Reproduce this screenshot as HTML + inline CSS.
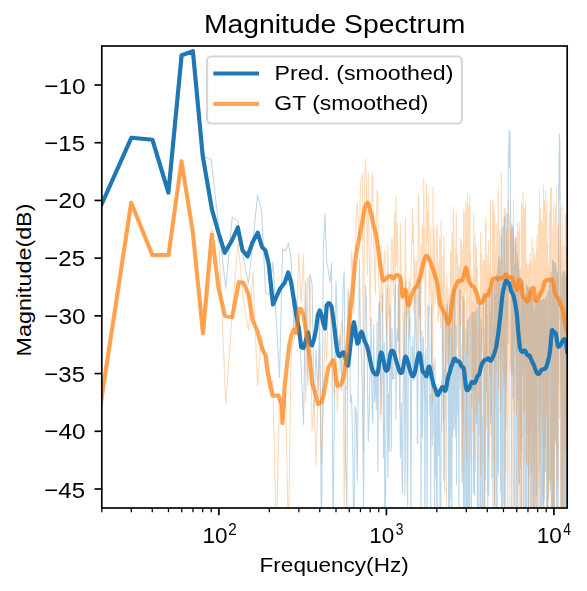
<!DOCTYPE html><html><head><meta charset="utf-8"><style>html,body{margin:0;padding:0;background:#fff;width:587px;height:591px;overflow:hidden}svg{display:block}</style></head><body><svg width="587" height="591" viewBox="0 0 587 591">
<defs><clipPath id="c"><rect x="101.8" y="46.0" width="465.40" height="462.00"/></clipPath></defs>
<rect width="587" height="591" fill="#fff"/>
<g clip-path="url(#c)" fill="none" stroke-linejoin="round" stroke-linecap="square">
<g style="opacity:0.3;will-change:opacity"><path d="M51.4,214.0 L101.8,203.9 L131.3,137.9 L152.2,139.7 L168.5,191.8 L181.7,55.2 L193.0,51.8 L202.7,156.0 L211.2,159.5 L218.9,228.0 L225.8,288.6 L232.2,216.9 L238.0,221.3 L243.4,257.6 L248.4,284.0 L253.1,240.0 L257.5,194.9 L261.7,211.4 L265.6,292.9 L269.3,295.0 L272.9,262.0 L276.3,320.0 L279.5,377.5 L282.6,248.8 L285.6,251.0 L288.4,243.3 L291.2,259.8 L293.8,330.0 L296.4,300.0 L298.8,331.2 L301.2,366.2 L303.5,424.4 L305.8,280.7 L307.9,385.0 L310.0,273.9 L312.1,284.2 L314.1,407.6 L316.0,350.3 L317.9,392.1 L319.7,317.3 L321.5,557.6 L323.3,250.0 L325.0,214.0 L326.7,262.0 L328.3,269.9 L329.9,282.5 L331.5,263.2 L333.0,535.3 L334.5,395.8 L336.0,281.0 L337.4,326.8 L338.8,348.9 L340.2,334.7 L341.6,390.1 L342.9,290.2 L344.2,271.6 L345.5,458.7 L346.8,508.1 L348.0,289.4 L349.2,309.9 L350.4,402.6 L351.6,395.6 L352.8,452.0 L353.9,560.0 L355.1,406.3 L356.2,412.1 L357.3,480.8 L358.3,372.3 L359.4,259.1 L360.5,340.4 L361.5,358.0 L362.5,397.3 L363.5,514.8 L364.5,376.2 L365.5,285.5 L366.4,300.8 L367.4,375.9 L368.3,441.5 L369.3,412.1 L370.2,356.3 L371.1,317.4 L372.0,406.7 L372.8,423.7 L373.7,324.7 L374.6,401.6 L375.4,369.4 L376.3,410.1 L377.1,321.5 L377.9,471.1 L378.7,304.9 L379.5,301.5 L380.3,348.0 L381.1,414.0 L381.9,371.1 L382.7,293.4 L383.4,457.6 L384.2,342.6 L384.9,560.0 L385.7,481.7 L386.4,341.3 L387.1,288.3 L387.8,477.7 L388.6,393.6 L389.3,451.7 L389.9,305.2 L390.6,342.4 L391.3,451.0 L392.0,328.6 L392.7,379.0 L393.3,374.5 L394.0,378.8 L394.6,304.8 L395.3,284.6 L395.9,419.6 L396.6,339.3 L397.2,328.8 L397.8,341.0 L398.4,284.9 L399.1,352.9 L399.7,289.9 L400.3,458.1 L400.9,442.4 L401.5,403.2 L402.0,482.2 L402.6,493.6 L403.2,384.4 L403.8,376.1 L404.4,313.3 L404.9,496.0 L405.5,425.1 L406.0,280.8 L406.6,316.2 L407.1,482.8 L407.7,506.1 L408.2,376.9 L408.8,299.6 L409.3,338.3 L409.8,317.0 L410.4,360.4 L410.9,540.8 L411.4,418.3 L411.9,346.7 L412.4,373.1 L412.9,336.0 L413.4,357.8 L413.9,380.6 L414.4,374.2 L414.9,286.8 L415.4,311.9 L415.9,331.5 L416.4,355.2 L416.9,364.2 L417.3,443.4 L417.8,443.4 L418.3,307.9 L418.7,279.9 L419.2,317.7 L419.7,273.5 L420.1,281.0 L420.6,351.5 L421.0,553.2 L421.5,365.0 L421.9,330.2 L422.4,437.7 L422.8,422.6 L423.3,337.0 L423.7,351.0 L424.1,373.6 L424.6,401.6 L425.0,560.0 L425.4,358.2 L425.9,347.6 L426.3,395.8 L426.7,411.7 L427.1,517.8 L427.5,407.3 L427.9,304.7 L428.3,309.6 L428.8,307.0 L429.2,378.1 L429.6,404.2 L430.0,416.3 L430.4,394.5 L430.8,507.6 L431.2,346.7 L431.5,305.1 L431.9,355.6 L432.3,445.9 L432.7,376.7 L433.1,369.7 L433.5,363.6 L433.9,436.7 L434.2,409.7 L434.6,560.0 L435.0,358.9 L435.4,477.2 L435.7,410.3 L436.1,393.7 L436.5,434.8 L436.8,560.0 L437.2,560.0 L437.5,389.0 L437.9,405.9 L438.3,392.6 L438.6,455.7 L439.0,397.4 L439.3,389.3 L439.7,436.8 L440.0,546.9 L440.4,560.0 L440.7,540.2 L441.1,435.0 L441.4,380.8 L441.7,431.4 L442.1,403.1 L442.4,357.6 L442.8,309.8 L443.1,346.8 L443.4,380.9 L443.8,480.4 L444.1,436.6 L444.4,369.4 L444.7,491.9 L445.1,314.4 L445.4,371.3 L445.7,392.8 L446.0,328.6 L446.4,322.0 L446.7,307.9 L447.0,306.5 L447.3,305.0 L447.6,303.6 L447.9,338.9 L448.2,393.9 L448.6,514.7 L448.9,320.1 L449.2,327.5 L449.5,522.2 L449.8,295.0 L450.1,499.8 L450.4,487.0 L450.7,384.2 L451.0,327.4 L451.3,453.0 L451.6,430.4 L451.9,560.0 L452.2,353.3 L452.5,289.9 L452.8,436.5 L453.1,419.0 L453.3,350.8 L453.6,372.6 L453.9,290.6 L454.2,429.0 L454.5,365.1 L454.8,287.2 L455.1,333.3 L455.3,357.5 L455.6,436.4 L455.9,324.9 L456.2,326.6 L456.5,484.7 L456.7,355.5 L457.0,416.4 L457.3,367.8 L457.6,358.5 L457.8,408.2 L458.1,362.6 L458.4,433.8 L458.7,404.8 L458.9,560.0 L459.2,347.6 L459.5,289.6 L459.7,381.7 L460.0,352.8 L460.3,290.1 L460.5,352.8 L460.8,387.5 L461.0,344.1 L461.3,411.7 L461.6,365.4 L461.8,441.3 L462.1,482.9 L462.3,472.8 L462.6,356.5 L462.8,358.0 L463.1,296.3 L463.3,443.4 L463.6,560.0 L463.9,299.2 L464.1,309.1 L464.4,372.1 L464.6,364.0 L464.8,560.0 L465.1,351.6 L465.3,442.4 L465.6,434.0 L465.8,329.0 L466.1,472.5 L466.3,512.0 L466.6,550.2 L466.8,412.0 L467.0,404.1 L467.3,321.1 L467.5,560.0 L467.8,505.0 L468.0,339.3 L468.2,483.9 L468.5,318.7 L468.7,366.1 L468.9,507.8 L469.2,439.7 L469.4,342.8 L469.6,553.8 L469.9,422.0 L470.1,315.4 L470.3,407.1 L470.6,397.6 L470.8,393.6 L471.0,460.1 L471.2,399.0 L471.5,560.0 L471.7,432.4 L471.9,313.0 L472.1,312.9 L472.4,334.5 L472.6,312.6 L472.8,391.2 L473.0,370.6 L473.3,406.5 L473.5,492.8 L473.7,312.0 L473.9,344.2 L474.1,387.8 L474.3,491.6 L474.6,495.8 L474.8,335.8 L475.0,311.3 L475.2,393.9 L475.4,312.9 L475.6,313.3 L475.8,381.2 L476.1,390.8 L476.3,423.4 L476.5,413.4 L476.7,352.0 L476.9,308.9 L477.1,416.2 L477.3,440.6 L477.5,556.3 L477.7,394.7 L477.9,444.3 L478.2,560.0 L478.4,306.2 L478.6,338.0 L478.8,433.7 L479.0,305.1 L479.2,304.8 L479.4,336.6 L479.6,329.6 L479.8,303.6 L480.0,550.8 L480.2,545.8 L480.4,419.4 L480.6,560.0 L480.8,425.9 L481.0,357.4 L481.2,319.2 L481.4,416.3 L481.6,327.5 L481.8,439.6 L482.0,510.9 L482.2,545.4 L482.4,495.2 L482.6,417.0 L482.7,471.0 L482.9,427.3 L483.1,560.0 L483.3,293.3 L483.5,370.5 L483.7,385.3 L483.9,383.5 L484.1,463.3 L484.3,348.2 L484.5,560.0 L484.7,443.4 L484.8,367.7 L485.0,328.3 L485.2,359.0 L485.4,479.2 L485.6,295.8 L485.8,302.0 L486.0,328.7 L486.1,391.7 L486.3,326.9 L486.5,352.9 L486.7,311.4 L486.9,289.6 L487.1,396.3 L487.2,315.2 L487.4,493.2 L487.6,465.9 L487.8,521.5 L488.0,448.4 L488.1,393.6 L488.3,483.6 L488.5,417.1 L488.7,380.1 L488.9,495.3 L489.0,444.9 L489.2,288.4 L489.4,319.4 L489.6,314.1 L489.7,317.2 L489.9,376.8 L490.1,331.6 L490.3,356.7 L490.4,385.4 L490.6,423.9 L490.8,310.7 L491.0,410.1 L491.1,314.2 L491.3,293.0 L491.5,300.4 L491.7,293.7 L491.8,477.9 L492.0,446.4 L492.2,329.2 L492.3,356.1 L492.5,289.7 L492.7,446.1 L492.8,354.7 L493.0,515.3 L493.2,443.0 L493.3,395.8 L493.5,325.2 L493.7,363.2 L493.8,457.5 L494.0,311.5 L494.2,284.8 L494.3,312.9 L494.5,494.2 L494.7,505.3 L494.8,318.2 L495.0,409.1 L495.2,280.7 L495.3,328.3 L495.5,294.5 L495.7,303.6 L495.8,405.6 L496.0,342.2 L496.1,473.8 L496.3,516.6 L496.5,330.4 L496.6,274.4 L496.8,440.0 L496.9,365.8 L497.1,560.0 L497.3,294.2 L497.4,398.9 L497.6,469.9 L497.7,268.2 L497.9,329.5 L498.0,326.6 L498.2,286.6 L498.4,262.1 L498.5,474.8 L498.7,294.8 L498.8,364.3 L499.0,256.0 L499.1,290.5 L499.3,314.1 L499.4,345.8 L499.6,258.6 L499.7,261.8 L499.9,340.5 L500.1,393.2 L500.2,303.0 L500.4,492.4 L500.5,324.9 L500.7,332.3 L500.8,423.2 L501.0,395.1 L501.1,236.2 L501.3,248.9 L501.4,328.4 L501.6,560.0 L501.7,346.1 L501.9,379.1 L502.0,293.2 L502.2,227.8 L502.3,278.0 L502.5,560.0 L502.6,282.2 L502.7,333.8 L502.9,389.9 L503.0,226.2 L503.2,318.5 L503.3,249.3 L503.5,351.2 L503.6,266.3 L503.8,287.9 L503.9,217.9 L504.1,262.5 L504.2,533.8 L504.3,555.5 L504.5,369.8 L504.6,232.8 L504.8,216.2 L504.9,339.5 L505.1,264.2 L505.2,560.0 L505.3,560.0 L505.5,299.4 L505.6,316.9 L505.8,429.0 L505.9,325.0 L506.1,320.0 L506.2,389.5 L506.3,370.8 L506.5,282.4 L506.6,370.7 L506.7,241.0 L506.9,213.1 L507.0,213.4 L507.2,250.8 L507.3,283.4 L507.4,323.2 L507.6,287.9 L507.7,281.3 L507.9,245.6 L508.0,343.3 L508.1,214.5 L508.3,152.8 L508.4,155.0 L508.5,155.0 L508.7,146.9 L508.8,154.6 L508.9,144.0 L509.1,132.7 L509.2,149.6 L509.3,130.0 L509.5,168.0 L509.6,147.7 L509.7,147.1 L509.9,131.8 L510.0,143.7 L510.1,136.0 L510.3,166.0 L510.4,202.9 L510.5,203.7 L510.7,224.5 L510.8,266.1 L510.9,250.5 L511.1,266.2 L511.2,377.1 L511.3,560.0 L511.5,381.6 L511.6,282.4 L511.7,223.9 L511.9,241.4 L512.0,238.0 L512.1,301.3 L512.2,374.1 L512.4,296.0 L512.5,226.0 L512.6,226.3 L512.8,249.4 L512.9,284.6 L513.0,227.3 L513.1,398.6 L513.3,254.0 L513.4,270.5 L513.5,228.7 L513.6,233.8 L513.8,311.4 L513.9,372.5 L514.0,267.2 L514.1,551.0 L514.3,389.7 L514.4,303.7 L514.5,418.5 L514.6,264.0 L514.8,370.1 L514.9,273.0 L515.0,560.0 L515.1,360.6 L515.3,244.5 L515.4,278.8 L515.5,237.4 L515.6,356.2 L515.8,238.7 L515.9,239.3 L516.0,273.1 L516.1,240.6 L516.3,380.7 L516.4,390.0 L516.5,560.0 L516.6,440.5 L516.7,318.7 L516.9,263.9 L517.0,357.6 L517.1,415.8 L517.2,260.5 L517.3,303.7 L517.5,277.0 L517.6,254.0 L517.7,560.0 L517.8,278.7 L517.9,483.7 L518.1,302.3 L518.2,261.6 L518.3,263.2 L518.4,264.7 L518.5,269.7 L518.7,274.4 L518.8,305.4 L518.9,309.8 L519.0,291.1 L519.1,270.4 L519.2,388.3 L519.4,484.1 L519.5,337.3 L519.6,314.3 L519.7,387.7 L519.8,340.4 L519.9,283.2 L520.1,308.9 L520.2,340.5 L520.3,322.8 L520.4,366.6 L520.5,427.2 L520.6,468.5 L520.7,324.3 L520.9,420.9 L521.0,519.6 L521.1,497.8 L521.2,502.7 L521.3,282.0 L521.4,560.0 L521.5,373.1 L521.7,302.7 L521.8,318.3 L521.9,280.0 L522.0,322.0 L522.1,373.9 L522.2,370.5 L522.3,280.5 L522.5,280.6 L522.6,313.4 L522.7,355.9 L522.8,280.9 L522.9,316.8 L523.0,355.0 L523.1,437.5 L523.2,281.4 L523.3,281.5 L523.5,380.8 L523.6,554.0 L523.7,353.3 L523.8,467.3 L523.9,330.1 L524.0,342.7 L524.1,321.7 L524.2,407.7 L524.3,298.6 L524.4,411.3 L524.6,314.3 L524.7,323.4 L524.8,410.0 L524.9,432.5 L525.0,560.0 L525.1,374.2 L525.2,399.1 L525.3,430.9 L525.4,293.7 L525.5,417.5 L525.6,486.5 L525.7,547.7 L525.8,340.7 L526.0,322.7 L526.1,560.0 L526.2,388.8 L526.3,310.5 L526.4,284.8 L526.5,310.7 L526.6,393.0 L526.7,380.2 L526.8,309.0 L526.9,560.0 L527.0,285.6 L527.1,412.8 L527.2,454.6 L527.3,312.4 L527.4,400.2 L527.5,335.0 L527.6,381.2 L527.7,422.7 L527.8,466.7 L528.0,286.7 L528.1,328.8 L528.2,434.3 L528.3,287.1 L528.4,560.0 L528.5,390.1 L528.6,508.9 L528.7,391.1 L528.8,461.7 L528.9,387.6 L529.0,362.2 L529.1,288.2 L529.2,414.8 L529.3,291.8 L529.4,292.3 L529.5,292.5 L529.6,341.7 L529.7,309.0 L529.8,436.2 L529.9,289.4 L530.0,295.4 L530.1,560.0 L530.2,290.0 L530.3,290.1 L530.4,293.7 L530.5,373.7 L530.6,294.5 L530.7,290.8 L530.8,291.0 L530.9,318.0 L531.0,291.4 L531.1,535.6 L531.2,409.1 L531.3,346.2 L531.4,292.1 L531.5,382.0 L531.6,337.9 L531.7,540.4 L531.8,430.0 L531.9,358.7 L532.0,386.8 L532.1,303.2 L532.2,295.8 L532.3,390.4 L532.4,361.3 L532.5,376.6 L532.6,294.1 L532.7,376.1 L532.8,371.3 L532.9,424.9 L533.0,346.2 L533.1,512.9 L533.2,383.3 L533.3,422.2 L533.4,407.5 L533.5,308.3 L533.6,351.5 L533.6,560.0 L533.7,347.2 L533.8,348.5 L533.9,344.8 L534.0,296.5 L534.1,305.0 L534.2,406.5 L534.3,495.2 L534.4,364.5 L534.5,329.5 L534.6,468.0 L534.7,403.2 L534.8,546.5 L534.9,426.0 L535.0,404.5 L535.1,358.4 L535.2,311.5 L535.3,508.4 L535.4,367.1 L535.5,382.0 L535.5,322.9 L535.6,298.9 L535.7,299.1 L535.8,299.2 L535.9,299.3 L536.0,478.1 L536.1,373.7 L536.2,314.0 L536.3,318.6 L536.4,496.4 L536.5,378.2 L536.6,379.5 L536.7,383.8 L536.8,377.0 L536.8,302.3 L536.9,329.8 L537.0,431.6 L537.1,560.0 L537.2,419.2 L537.3,523.3 L537.4,386.7 L537.5,301.7 L537.6,301.8 L537.7,360.7 L537.8,301.8 L537.8,301.7 L537.9,327.9 L538.0,560.0 L538.1,433.7 L538.2,308.4 L538.3,366.6 L538.4,305.2 L538.5,301.5 L538.6,385.1 L538.7,309.4 L538.8,337.2 L538.8,422.5 L538.9,363.4 L539.0,404.9 L539.1,350.7 L539.2,430.9 L539.3,369.8 L539.4,325.0 L539.5,301.1 L539.6,467.5 L539.6,301.0 L539.7,401.6 L539.8,527.5 L539.9,396.2 L540.0,432.4 L540.1,440.4 L540.2,521.9 L540.3,560.0 L540.3,393.6 L540.4,408.6 L540.5,359.9 L540.6,400.0 L540.7,300.6 L540.8,300.6 L540.9,300.6 L541.0,361.8 L541.0,300.5 L541.1,349.7 L541.2,334.9 L541.3,300.4 L541.4,320.5 L541.5,420.3 L541.6,339.7 L541.6,300.3 L541.7,436.0 L541.8,475.3 L541.9,520.9 L542.0,419.9 L542.1,450.0 L542.2,491.6 L542.2,303.5 L542.3,361.3 L542.4,300.0 L542.5,353.5 L542.6,504.1 L542.7,471.8 L542.8,486.4 L542.8,387.9 L542.9,419.2 L543.0,314.3 L543.1,315.6 L543.2,336.4 L543.3,493.2 L543.4,454.2 L543.4,415.1 L543.5,299.1 L543.6,422.8 L543.7,394.3 L543.8,560.0 L543.9,362.3 L543.9,538.9 L544.0,298.7 L544.1,488.5 L544.2,462.5 L544.3,499.7 L544.4,398.2 L544.4,421.0 L544.5,417.9 L544.6,438.5 L544.7,373.6 L544.8,470.8 L544.8,348.3 L544.9,457.1 L545.0,300.8 L545.1,312.8 L545.2,345.5 L545.3,308.7 L545.3,365.9 L545.4,391.9 L545.5,366.8 L545.6,374.1 L545.7,297.2 L545.7,406.2 L545.8,471.8 L545.9,311.2 L546.0,296.9 L546.1,434.0 L546.2,296.8 L546.2,296.7 L546.3,329.7 L546.4,366.3 L546.5,296.5 L546.6,481.8 L546.6,521.0 L546.7,560.0 L546.8,354.9 L546.9,443.9 L547.0,338.3 L547.0,507.9 L547.1,514.2 L547.2,327.1 L547.3,432.4 L547.4,444.4 L547.4,560.0 L547.5,347.8 L547.6,487.6 L547.7,343.9 L547.8,403.0 L547.8,292.8 L547.9,292.4 L548.0,291.9 L548.1,346.3 L548.2,498.2 L548.2,302.1 L548.3,290.2 L548.4,311.9 L548.5,291.9 L548.5,308.9 L548.6,412.4 L548.7,406.2 L548.8,344.0 L548.9,404.9 L548.9,434.1 L549.0,445.6 L549.1,471.3 L549.2,354.4 L549.2,477.7 L549.3,480.7 L549.4,412.2 L549.5,283.8 L549.6,343.8 L549.6,342.3 L549.7,317.1 L549.8,438.4 L549.9,318.8 L549.9,281.1 L550.0,371.1 L550.1,490.5 L550.2,327.2 L550.2,406.1 L550.3,283.3 L550.4,288.4 L550.5,338.6 L550.6,328.6 L550.6,379.5 L550.7,402.8 L550.8,331.0 L550.9,306.4 L550.9,388.1 L551.0,271.9 L551.1,331.1 L551.2,560.0 L551.2,521.0 L551.3,330.4 L551.4,426.1 L551.5,346.8 L551.5,293.8 L551.6,303.3 L551.7,291.5 L551.8,383.4 L551.8,346.3 L551.9,295.6 L552.0,399.4 L552.1,423.2 L552.1,346.3 L552.2,560.0 L552.3,420.0 L552.4,308.3 L552.4,392.7 L552.5,260.1 L552.6,260.2 L552.7,307.1 L552.7,331.7 L552.8,390.3 L552.9,260.6 L552.9,260.7 L553.0,260.8 L553.1,260.9 L553.2,298.0 L553.2,424.2 L553.3,560.0 L553.4,514.1 L553.5,307.8 L553.5,326.8 L553.6,413.1 L553.7,560.0 L553.8,336.0 L553.8,261.8 L553.9,263.1 L554.0,471.4 L554.0,357.7 L554.1,442.1 L554.2,398.3 L554.3,404.9 L554.3,560.0 L554.4,443.6 L554.5,377.9 L554.6,262.8 L554.6,262.9 L554.7,263.0 L554.8,323.4 L554.8,440.0 L554.9,263.3 L555.0,300.3 L555.1,408.2 L555.1,263.5 L555.2,320.7 L555.3,352.0 L555.3,352.4 L555.4,400.4 L555.5,279.0 L555.6,264.3 L555.6,264.6 L555.7,307.8 L555.8,375.1 L555.8,290.7 L555.9,443.1 L556.0,337.6 L556.1,389.7 L556.1,310.5 L556.2,314.1 L556.3,267.6 L556.3,286.4 L556.4,506.4 L556.5,310.4 L556.5,288.8 L556.6,375.5 L556.7,412.5 L556.8,490.0 L556.8,338.5 L556.9,475.4 L557.0,450.8 L557.0,468.8 L557.1,313.7 L557.2,459.8 L557.2,360.9 L557.3,272.4 L557.4,378.0 L557.4,423.7 L557.5,365.7 L557.6,378.1 L557.7,274.0 L557.7,300.0 L557.8,274.6 L557.9,302.1 L557.9,560.0 L558.0,560.0 L558.1,373.6 L558.1,475.4 L558.2,385.7 L558.3,321.1 L558.3,380.7 L558.4,350.4 L558.5,384.4 L558.5,227.6 L558.6,210.9 L558.7,194.9 L558.8,189.1 L558.8,188.7 L558.9,183.5 L559.0,153.4 L559.0,196.6 L559.1,198.3 L559.2,180.8 L559.2,154.5 L559.3,173.0 L559.4,142.1 L559.4,134.0 L559.5,170.7 L559.6,162.5 L559.6,145.0 L559.7,145.0 L559.8,139.9 L559.8,149.9 L559.9,173.0 L560.0,150.2 L560.0,203.0 L560.1,179.0 L560.2,210.1 L560.2,321.3 L560.3,289.9 L560.4,290.1 L560.4,275.5 L560.5,313.9 L560.6,368.7 L560.6,387.9 L560.7,275.1 L560.8,354.1 L560.8,560.0 L560.9,549.3 L561.0,274.6 L561.0,274.5 L561.1,533.2 L561.2,357.9 L561.2,333.8 L561.3,354.1 L561.4,467.4 L561.4,312.6 L561.5,480.6 L561.6,366.9 L561.6,310.6 L561.7,333.1 L561.8,402.0 L561.8,389.0 L561.9,294.8 L561.9,376.1 L562.0,300.3 L562.1,364.4 L562.1,347.2 L562.2,420.9 L562.3,419.8 L562.3,560.0 L562.4,278.0 L562.5,473.5 L562.5,504.2 L562.6,352.9 L562.7,382.8 L562.7,271.9 L562.8,361.7 L562.9,308.4 L562.9,295.0 L563.0,303.1 L563.0,271.4 L563.1,271.3 L563.2,271.2 L563.2,281.0 L563.3,288.0 L563.4,397.8 L563.4,277.0 L563.5,271.4 L563.6,427.9 L563.6,393.4 L563.7,492.2 L563.7,554.8 L563.8,303.4 L563.9,301.1 L563.9,304.6 L564.0,348.3 L564.1,285.3 L564.1,317.0 L564.2,272.0 L564.3,366.2 L564.3,464.0 L564.4,305.1 L564.4,336.4 L564.5,501.3 L564.6,272.3 L564.6,305.3 L564.7,541.2 L564.8,328.7 L564.8,273.1 L564.9,440.0 L564.9,422.2 L565.0,339.3 L565.1,312.3 L565.1,318.9 L565.2,383.0 L565.3,390.9 L565.3,272.9 L565.4,375.4 L565.4,397.9 L565.5,329.4 L565.6,560.0 L565.6,318.2 L565.7,306.3 L565.8,280.3 L565.8,362.6 L565.9,378.9 L565.9,356.4 L566.0,322.4 L566.1,275.6 L566.1,276.0 L566.2,560.0 L566.2,279.4 L566.3,277.1 L566.4,383.7 L566.4,414.0 L566.5,278.3 L566.6,294.6 L566.6,486.9 L566.7,420.5 L566.7,279.9 L566.8,338.4 L566.9,316.3 L566.9,558.2 L567.0,347.2 L567.0,369.1 L567.1,392.8 L567.2,378.5" stroke="#1f77b4" stroke-width="1.04"/></g>
<g style="opacity:0.3;will-change:opacity"><path d="M51.4,440.0 L101.8,396.9 L131.3,203.1 L152.2,254.8 L168.5,255.2 L181.7,162.7 L193.0,233.5 L202.7,333.3 L211.2,229.0 L218.9,242.6 L225.8,403.9 L232.2,314.0 L238.0,242.2 L243.4,300.0 L248.4,330.0 L253.1,273.0 L257.5,386.0 L261.7,335.0 L265.6,370.0 L269.3,390.0 L272.9,380.0 L276.3,540.0 L279.5,400.0 L282.6,420.0 L285.6,395.0 L288.4,540.0 L291.2,350.0 L293.8,340.0 L296.4,330.0 L298.8,252.5 L301.2,303.5 L303.5,254.6 L305.8,402.1 L307.9,276.4 L310.0,290.4 L312.1,430.8 L314.1,400.5 L316.0,465.1 L317.9,398.3 L319.7,349.2 L321.5,463.9 L323.3,412.1 L325.0,330.6 L326.7,361.9 L328.3,309.3 L329.9,300.5 L331.5,344.0 L333.0,386.5 L334.5,395.3 L336.0,348.8 L337.4,411.8 L338.8,374.7 L340.2,339.3 L341.6,321.1 L342.9,330.5 L344.2,511.4 L345.5,387.0 L346.8,388.9 L348.0,338.0 L349.2,292.6 L350.4,332.6 L351.6,251.0 L352.8,267.7 L353.9,314.2 L355.1,265.8 L356.2,218.4 L357.3,203.0 L358.3,220.6 L359.4,241.8 L360.5,183.2 L361.5,178.2 L362.5,173.2 L363.5,450.9 L364.5,183.2 L365.5,158.7 L366.4,183.1 L367.4,275.8 L368.3,172.1 L369.3,259.8 L370.2,325.9 L371.1,246.9 L372.0,173.6 L372.8,179.5 L373.7,238.6 L374.6,269.8 L375.4,294.3 L376.3,217.2 L377.1,190.7 L377.9,194.9 L378.7,279.9 L379.5,298.0 L380.3,421.5 L381.1,246.8 L381.9,312.9 L382.7,310.5 L383.4,266.7 L384.2,257.3 L384.9,249.4 L385.7,316.0 L386.4,336.6 L387.1,289.7 L387.8,244.9 L388.6,316.9 L389.3,285.2 L389.9,317.6 L390.6,370.5 L391.3,245.7 L392.0,237.7 L392.7,259.7 L393.3,296.8 L394.0,237.1 L394.6,212.2 L395.3,307.5 L395.9,195.4 L396.6,265.0 L397.2,222.8 L397.8,248.9 L398.4,298.5 L399.1,363.6 L399.7,409.6 L400.3,222.8 L400.9,249.7 L401.5,299.6 L402.0,298.2 L402.6,280.5 L403.2,359.5 L403.8,363.8 L404.4,287.6 L404.9,313.2 L405.5,217.8 L406.0,283.8 L406.6,334.5 L407.1,301.8 L407.7,316.5 L408.2,298.9 L408.8,286.0 L409.3,278.8 L409.8,330.0 L410.4,282.1 L410.9,279.0 L411.4,248.8 L411.9,242.7 L412.4,208.3 L412.9,242.6 L413.4,222.9 L413.9,313.3 L414.4,303.3 L414.9,259.3 L415.4,302.9 L415.9,280.6 L416.4,260.6 L416.9,365.9 L417.3,306.3 L417.8,289.9 L418.3,195.8 L418.7,194.4 L419.2,238.1 L419.7,305.9 L420.1,342.8 L420.6,301.4 L421.0,244.5 L421.5,293.0 L421.9,253.5 L422.4,225.5 L422.8,239.8 L423.3,278.3 L423.7,177.7 L424.1,234.8 L424.6,229.9 L425.0,290.3 L425.4,345.6 L425.9,295.0 L426.3,192.1 L426.7,183.4 L427.1,241.8 L427.5,211.5 L427.9,223.7 L428.3,259.4 L428.8,194.4 L429.2,314.3 L429.6,262.9 L430.0,294.9 L430.4,275.4 L430.8,228.1 L431.2,271.7 L431.5,370.7 L431.9,291.4 L432.3,401.9 L432.7,380.7 L433.1,186.7 L433.5,314.0 L433.9,227.4 L434.2,240.8 L434.6,238.7 L435.0,304.6 L435.4,269.8 L435.7,299.4 L436.1,289.0 L436.5,228.9 L436.8,233.9 L437.2,224.0 L437.5,266.6 L437.9,320.3 L438.3,321.7 L438.6,283.5 L439.0,262.6 L439.3,314.7 L439.7,237.0 L440.0,243.8 L440.4,241.3 L440.7,328.2 L441.1,219.8 L441.4,255.3 L441.7,282.1 L442.1,318.6 L442.4,352.9 L442.8,290.9 L443.1,255.9 L443.4,421.9 L443.8,236.2 L444.1,257.1 L444.4,273.5 L444.7,309.8 L445.1,285.6 L445.4,320.1 L445.7,417.5 L446.0,305.1 L446.4,508.3 L446.7,276.3 L447.0,290.1 L447.3,363.9 L447.6,322.0 L447.9,325.0 L448.2,289.3 L448.6,353.9 L448.9,364.5 L449.2,327.1 L449.5,343.3 L449.8,301.8 L450.1,337.0 L450.4,279.9 L450.7,251.3 L451.0,269.3 L451.3,348.9 L451.6,374.2 L451.9,231.7 L452.2,251.6 L452.5,358.2 L452.8,314.9 L453.1,308.6 L453.3,207.1 L453.6,219.1 L453.9,250.3 L454.2,294.9 L454.5,300.2 L454.8,364.5 L455.1,304.0 L455.3,317.3 L455.6,248.8 L455.9,263.7 L456.2,212.4 L456.5,252.4 L456.7,252.4 L457.0,348.5 L457.3,285.0 L457.6,304.4 L457.8,254.7 L458.1,300.6 L458.4,369.9 L458.7,360.7 L458.9,271.1 L459.2,264.9 L459.5,274.6 L459.7,318.4 L460.0,273.9 L460.3,326.2 L460.5,280.5 L460.8,238.3 L461.0,298.3 L461.3,287.6 L461.6,240.7 L461.8,320.6 L462.1,245.2 L462.3,261.3 L462.6,470.9 L462.8,307.3 L463.1,331.2 L463.3,425.9 L463.6,210.0 L463.9,302.2 L464.1,272.2 L464.4,266.7 L464.6,351.5 L464.8,262.0 L465.1,212.4 L465.3,290.9 L465.6,214.9 L465.8,202.6 L466.1,238.4 L466.3,235.7 L466.6,458.7 L466.8,320.3 L467.0,327.9 L467.3,211.0 L467.5,194.7 L467.8,354.7 L468.0,260.8 L468.2,280.5 L468.5,205.5 L468.7,207.7 L468.9,264.2 L469.2,267.8 L469.4,339.0 L469.6,248.5 L469.9,197.2 L470.1,326.2 L470.3,285.1 L470.6,252.0 L470.8,389.6 L471.0,282.1 L471.2,350.5 L471.5,355.2 L471.7,406.2 L471.9,275.0 L472.1,344.3 L472.4,409.3 L472.6,370.5 L472.8,301.1 L473.0,432.0 L473.3,331.3 L473.5,307.0 L473.7,213.3 L473.9,291.0 L474.1,388.5 L474.3,267.6 L474.6,269.5 L474.8,331.5 L475.0,460.1 L475.2,234.5 L475.4,309.0 L475.6,471.5 L475.8,321.2 L476.1,353.6 L476.3,246.7 L476.5,250.6 L476.7,414.9 L476.9,272.0 L477.1,307.3 L477.3,319.9 L477.5,268.0 L477.7,297.1 L477.9,354.1 L478.2,350.8 L478.4,387.5 L478.6,332.3 L478.8,402.9 L479.0,352.0 L479.2,400.7 L479.4,308.9 L479.6,298.5 L479.8,367.7 L480.0,370.6 L480.2,347.3 L480.4,272.0 L480.6,233.1 L480.8,475.3 L481.0,394.3 L481.2,341.6 L481.4,335.5 L481.6,303.4 L481.8,253.4 L482.0,350.5 L482.2,350.5 L482.4,317.9 L482.6,309.8 L482.7,329.8 L482.9,336.1 L483.1,260.3 L483.3,267.7 L483.5,262.1 L483.7,334.6 L483.9,287.7 L484.1,364.6 L484.3,260.2 L484.5,260.3 L484.7,322.2 L484.8,259.6 L485.0,550.9 L485.2,312.9 L485.4,224.5 L485.6,346.6 L485.8,218.5 L486.0,231.2 L486.1,354.9 L486.3,287.6 L486.5,269.1 L486.7,427.7 L486.9,335.7 L487.1,416.7 L487.2,254.9 L487.4,380.7 L487.6,261.3 L487.8,333.9 L488.0,357.5 L488.1,312.2 L488.3,369.3 L488.5,241.4 L488.7,391.1 L488.9,457.7 L489.0,264.1 L489.2,290.7 L489.4,296.1 L489.6,266.6 L489.7,375.7 L489.9,362.0 L490.1,332.8 L490.3,351.7 L490.4,273.1 L490.6,199.9 L490.8,434.3 L491.0,304.4 L491.1,368.2 L491.3,417.4 L491.5,301.6 L491.7,273.6 L491.8,350.9 L492.0,279.7 L492.2,355.6 L492.3,287.0 L492.5,216.4 L492.7,199.7 L492.8,289.3 L493.0,255.0 L493.2,245.1 L493.3,361.0 L493.5,246.8 L493.7,205.7 L493.8,334.3 L494.0,249.0 L494.2,274.8 L494.3,214.5 L494.5,345.0 L494.7,548.8 L494.8,215.5 L495.0,269.0 L495.2,323.3 L495.3,295.3 L495.5,306.5 L495.7,250.3 L495.8,366.6 L496.0,352.6 L496.1,371.4 L496.3,265.4 L496.5,284.0 L496.6,313.1 L496.8,225.4 L496.9,223.5 L497.1,329.9 L497.3,346.3 L497.4,323.6 L497.6,272.3 L497.7,280.8 L497.9,291.2 L498.0,247.2 L498.2,189.3 L498.4,195.1 L498.5,358.5 L498.7,390.3 L498.8,306.9 L499.0,234.9 L499.1,311.1 L499.3,345.7 L499.4,229.9 L499.6,247.7 L499.7,325.9 L499.9,298.9 L500.1,258.6 L500.2,357.9 L500.4,292.8 L500.5,303.9 L500.7,411.9 L500.8,327.1 L501.0,360.9 L501.1,360.9 L501.3,171.5 L501.4,180.8 L501.6,300.9 L501.7,348.3 L501.9,271.3 L502.0,259.1 L502.2,303.2 L502.3,346.3 L502.5,287.6 L502.6,299.5 L502.7,329.2 L502.9,341.9 L503.0,371.3 L503.2,304.0 L503.3,354.1 L503.5,303.6 L503.6,354.7 L503.8,504.3 L503.9,353.8 L504.1,259.2 L504.2,254.4 L504.3,301.1 L504.5,208.7 L504.6,382.6 L504.8,262.4 L504.9,244.6 L505.1,299.5 L505.2,273.9 L505.3,207.8 L505.5,283.2 L505.6,303.7 L505.8,472.4 L505.9,323.5 L506.1,365.0 L506.2,374.5 L506.3,255.7 L506.5,230.2 L506.6,417.6 L506.7,243.2 L506.9,276.5 L507.0,305.2 L507.2,356.3 L507.3,374.2 L507.4,560.0 L507.6,336.7 L507.7,330.9 L507.9,310.3 L508.0,275.4 L508.1,267.8 L508.3,281.0 L508.4,200.8 L508.5,341.4 L508.7,240.3 L508.8,262.0 L508.9,286.6 L509.1,560.0 L509.2,283.1 L509.3,315.4 L509.5,309.6 L509.6,235.0 L509.7,215.7 L509.9,308.5 L510.0,317.4 L510.1,371.2 L510.3,279.3 L510.4,227.5 L510.5,279.7 L510.7,277.0 L510.8,232.9 L510.9,364.1 L511.1,229.0 L511.2,235.8 L511.3,242.9 L511.5,260.9 L511.6,374.7 L511.7,233.7 L511.9,310.5 L512.0,300.6 L512.1,266.3 L512.2,306.7 L512.4,294.4 L512.5,236.6 L512.6,276.1 L512.8,560.0 L512.9,308.3 L513.0,322.3 L513.1,357.7 L513.3,199.9 L513.4,358.2 L513.5,285.1 L513.6,325.6 L513.8,409.6 L513.9,317.8 L514.0,348.3 L514.1,273.3 L514.3,343.4 L514.4,282.9 L514.5,336.5 L514.6,252.4 L514.8,322.1 L514.9,239.0 L515.0,318.4 L515.1,261.0 L515.3,258.3 L515.4,243.8 L515.5,261.9 L515.6,325.2 L515.8,274.7 L515.9,337.9 L516.0,355.5 L516.1,322.2 L516.3,250.9 L516.4,354.8 L516.5,412.1 L516.6,416.1 L516.7,315.0 L516.9,270.9 L517.0,234.2 L517.1,385.3 L517.2,327.3 L517.3,223.1 L517.5,257.9 L517.6,399.3 L517.7,349.6 L517.8,273.8 L517.9,255.9 L518.1,232.0 L518.2,243.1 L518.3,284.0 L518.4,322.2 L518.5,484.2 L518.7,334.0 L518.8,339.0 L518.9,337.2 L519.0,518.9 L519.1,359.1 L519.2,221.8 L519.4,261.6 L519.5,319.3 L519.6,228.8 L519.7,283.1 L519.8,285.0 L519.9,266.3 L520.1,283.0 L520.2,533.0 L520.3,327.4 L520.4,293.5 L520.5,324.0 L520.6,268.6 L520.7,364.9 L520.9,284.5 L521.0,334.9 L521.1,366.2 L521.2,449.9 L521.3,405.8 L521.4,319.8 L521.5,203.4 L521.7,324.3 L521.8,203.5 L521.9,264.1 L522.0,452.9 L522.1,383.3 L522.2,301.6 L522.3,513.2 L522.5,268.4 L522.6,303.0 L522.7,324.4 L522.8,218.0 L522.9,217.4 L523.0,270.4 L523.1,192.2 L523.2,311.2 L523.3,316.8 L523.5,341.9 L523.6,409.7 L523.7,292.0 L523.8,255.9 L523.9,311.6 L524.0,207.8 L524.1,238.7 L524.2,278.7 L524.3,413.3 L524.4,276.8 L524.6,364.2 L524.7,304.2 L524.8,209.5 L524.9,332.1 L525.0,219.5 L525.1,286.0 L525.2,285.1 L525.3,245.7 L525.4,285.8 L525.5,298.2 L525.6,202.3 L525.7,270.2 L525.8,332.3 L526.0,400.4 L526.1,288.2 L526.2,389.5 L526.3,300.1 L526.4,389.8 L526.5,462.0 L526.6,262.3 L526.7,387.0 L526.8,305.0 L526.9,298.2 L527.0,430.7 L527.1,289.3 L527.2,433.7 L527.3,340.6 L527.4,295.4 L527.5,320.5 L527.6,283.5 L527.7,265.3 L527.8,290.6 L528.0,283.1 L528.1,348.0 L528.2,316.7 L528.3,400.5 L528.4,372.1 L528.5,560.0 L528.6,309.1 L528.7,271.4 L528.8,302.9 L528.9,264.0 L529.0,273.6 L529.1,352.6 L529.2,313.1 L529.3,425.7 L529.4,334.0 L529.5,311.6 L529.6,423.0 L529.7,478.0 L529.8,287.1 L529.9,276.8 L530.0,252.9 L530.1,420.8 L530.2,317.7 L530.3,467.0 L530.4,303.7 L530.5,274.0 L530.6,315.6 L530.7,430.1 L530.8,388.9 L530.9,309.2 L531.0,284.5 L531.1,260.8 L531.2,325.2 L531.3,341.6 L531.4,273.6 L531.5,273.1 L531.6,302.8 L531.7,312.9 L531.8,473.6 L531.9,245.7 L532.0,239.0 L532.1,252.1 L532.2,344.4 L532.3,469.1 L532.4,295.7 L532.5,337.7 L532.6,515.2 L532.7,355.5 L532.8,299.4 L532.9,306.0 L533.0,496.8 L533.1,299.1 L533.2,322.1 L533.3,378.9 L533.4,268.3 L533.5,315.1 L533.6,251.6 L533.6,248.6 L533.7,290.2 L533.8,294.2 L533.9,340.9 L534.0,265.2 L534.1,463.3 L534.2,341.5 L534.3,256.0 L534.4,301.7 L534.5,404.4 L534.6,392.4 L534.7,344.7 L534.8,547.3 L534.9,254.5 L535.0,345.7 L535.1,460.7 L535.2,275.2 L535.3,316.1 L535.4,359.1 L535.5,301.5 L535.5,291.1 L535.6,395.0 L535.7,301.1 L535.8,260.6 L535.9,333.3 L536.0,433.6 L536.1,360.6 L536.2,301.6 L536.3,318.7 L536.4,249.4 L536.5,560.0 L536.6,292.1 L536.7,255.7 L536.8,245.4 L536.8,245.8 L536.9,234.4 L537.0,408.0 L537.1,346.3 L537.2,360.0 L537.3,349.0 L537.4,328.4 L537.5,249.9 L537.6,270.2 L537.7,320.5 L537.8,314.4 L537.8,377.6 L537.9,306.8 L538.0,265.2 L538.1,303.0 L538.2,325.7 L538.3,324.2 L538.4,223.6 L538.5,261.6 L538.6,334.9 L538.7,329.1 L538.8,331.9 L538.8,258.0 L538.9,487.7 L539.0,273.1 L539.1,475.8 L539.2,271.1 L539.3,348.5 L539.4,228.7 L539.5,191.6 L539.6,234.4 L539.6,434.9 L539.7,464.6 L539.8,279.7 L539.9,303.3 L540.0,323.9 L540.1,319.8 L540.2,292.9 L540.3,220.7 L540.3,208.0 L540.4,354.1 L540.5,282.8 L540.6,293.5 L540.7,318.3 L540.8,414.5 L540.9,307.8 L541.0,350.7 L541.0,425.4 L541.1,543.7 L541.2,362.0 L541.3,450.4 L541.4,219.7 L541.5,364.2 L541.6,279.6 L541.6,319.6 L541.7,328.9 L541.8,369.9 L541.9,377.9 L542.0,381.7 L542.1,332.3 L542.2,370.2 L542.2,258.2 L542.3,340.2 L542.4,302.6 L542.5,224.9 L542.6,331.9 L542.7,288.5 L542.8,335.6 L542.8,301.2 L542.9,302.4 L543.0,428.1 L543.1,293.2 L543.2,375.3 L543.3,195.1 L543.4,432.2 L543.4,558.3 L543.5,223.9 L543.6,185.5 L543.7,232.1 L543.8,326.8 L543.9,323.1 L543.9,244.5 L544.0,301.6 L544.1,298.9 L544.2,494.2 L544.3,379.4 L544.4,279.5 L544.4,403.5 L544.5,200.3 L544.6,223.5 L544.7,341.9 L544.8,401.5 L544.8,289.1 L544.9,278.5 L545.0,294.3 L545.1,390.1 L545.2,353.0 L545.3,447.6 L545.3,274.4 L545.4,254.5 L545.5,231.1 L545.6,214.7 L545.7,267.0 L545.7,191.1 L545.8,400.6 L545.9,233.1 L546.0,212.9 L546.1,399.9 L546.2,311.0 L546.2,248.9 L546.3,254.4 L546.4,268.3 L546.5,335.5 L546.6,417.3 L546.6,296.5 L546.7,259.1 L546.8,282.5 L546.9,254.0 L547.0,201.7 L547.0,232.8 L547.1,282.1 L547.2,306.3 L547.3,258.9 L547.4,264.0 L547.4,267.8 L547.5,560.0 L547.6,242.8 L547.7,353.8 L547.8,335.3 L547.8,260.9 L547.9,306.6 L548.0,439.8 L548.1,314.8 L548.2,296.1 L548.2,379.4 L548.3,296.8 L548.4,295.6 L548.5,526.3 L548.5,268.8 L548.6,275.6 L548.7,266.6 L548.8,315.5 L548.9,312.8 L548.9,273.8 L549.0,398.2 L549.1,346.4 L549.2,331.1 L549.2,306.1 L549.3,303.5 L549.4,242.2 L549.5,212.3 L549.6,281.8 L549.6,341.6 L549.7,265.3 L549.8,242.8 L549.9,279.3 L549.9,350.1 L550.0,215.8 L550.1,220.6 L550.2,321.8 L550.2,331.6 L550.3,358.0 L550.4,187.9 L550.5,243.8 L550.6,327.4 L550.6,335.0 L550.7,483.2 L550.8,268.9 L550.9,266.9 L550.9,358.4 L551.0,254.1 L551.1,457.7 L551.2,331.4 L551.2,250.3 L551.3,335.3 L551.4,290.5 L551.5,381.2 L551.5,187.8 L551.6,213.3 L551.7,279.7 L551.8,479.5 L551.8,320.8 L551.9,300.0 L552.0,507.5 L552.1,369.3 L552.1,410.8 L552.2,488.0 L552.3,303.6 L552.4,273.1 L552.4,309.8 L552.5,315.5 L552.6,360.6 L552.7,526.1 L552.7,351.0 L552.8,306.6 L552.9,271.0 L552.9,234.7 L553.0,226.4 L553.1,536.1 L553.2,369.6 L553.2,289.3 L553.3,261.4 L553.4,323.6 L553.5,265.3 L553.5,425.0 L553.6,329.3 L553.7,202.8 L553.8,238.9 L553.8,283.0 L553.9,312.5 L554.0,429.0 L554.0,425.3 L554.1,560.0 L554.2,385.0 L554.3,303.3 L554.3,558.7 L554.4,470.0 L554.5,352.6 L554.6,391.7 L554.6,309.1 L554.7,300.5 L554.8,315.8 L554.8,321.5 L554.9,367.3 L555.0,438.0 L555.1,361.6 L555.1,231.8 L555.2,267.9 L555.3,216.1 L555.3,245.9 L555.4,332.8 L555.5,305.1 L555.6,206.8 L555.6,358.2 L555.7,302.1 L555.8,337.2 L555.8,445.7 L555.9,311.3 L556.0,350.1 L556.1,343.2 L556.1,243.3 L556.2,228.8 L556.3,308.6 L556.3,386.0 L556.4,270.5 L556.5,226.5 L556.5,187.6 L556.6,279.3 L556.7,407.1 L556.8,332.1 L556.8,252.9 L556.9,435.8 L557.0,458.3 L557.0,228.1 L557.1,271.8 L557.2,371.8 L557.2,382.5 L557.3,480.9 L557.4,402.3 L557.4,314.9 L557.5,419.3 L557.6,403.7 L557.7,319.5 L557.7,430.1 L557.8,560.0 L557.9,309.3 L557.9,272.2 L558.0,271.8 L558.1,485.0 L558.1,379.6 L558.2,276.2 L558.3,317.0 L558.3,224.5 L558.4,391.8 L558.5,334.7 L558.5,254.4 L558.6,247.7 L558.7,276.7 L558.8,275.1 L558.8,360.8 L558.9,359.0 L559.0,310.2 L559.0,254.1 L559.1,275.4 L559.2,271.3 L559.2,313.5 L559.3,367.2 L559.4,357.4 L559.4,254.5 L559.5,282.1 L559.6,418.4 L559.6,412.6 L559.7,374.5 L559.8,242.6 L559.8,310.8 L559.9,336.3 L560.0,241.6 L560.0,208.2 L560.1,273.5 L560.2,225.2 L560.2,409.0 L560.3,296.8 L560.4,306.0 L560.4,237.0 L560.5,276.6 L560.6,323.3 L560.6,323.0 L560.7,347.9 L560.8,258.0 L560.8,247.3 L560.9,406.6 L561.0,560.0 L561.0,382.9 L561.1,277.5 L561.2,259.4 L561.2,299.6 L561.3,334.0 L561.4,341.3 L561.4,287.3 L561.5,312.5 L561.6,356.5 L561.6,339.3 L561.7,560.0 L561.8,350.2 L561.8,325.0 L561.9,262.5 L561.9,260.0 L562.0,289.6 L562.1,431.0 L562.1,258.2 L562.2,206.6 L562.3,306.2 L562.3,527.3 L562.4,408.5 L562.5,363.6 L562.5,321.2 L562.6,376.7 L562.7,337.1 L562.7,334.1 L562.8,528.6 L562.9,289.9 L562.9,416.3 L563.0,292.1 L563.0,273.6 L563.1,268.8 L563.2,266.3 L563.2,319.1 L563.3,245.7 L563.4,348.0 L563.4,328.1 L563.5,286.7 L563.6,281.8 L563.6,345.5 L563.7,392.9 L563.7,259.3 L563.8,392.6 L563.9,560.0 L563.9,354.0 L564.0,352.4 L564.1,282.7 L564.1,322.7 L564.2,356.2 L564.3,383.4 L564.3,355.7 L564.4,347.9 L564.4,434.0 L564.5,307.0 L564.6,366.1 L564.6,377.5 L564.7,395.7 L564.8,452.6 L564.8,345.2 L564.9,286.3 L564.9,331.6 L565.0,214.1 L565.1,268.0 L565.1,401.9 L565.2,311.3 L565.3,358.3 L565.3,331.4 L565.4,290.0 L565.4,214.9 L565.5,398.8 L565.6,431.1 L565.6,257.6 L565.7,326.6 L565.8,321.4 L565.8,350.1 L565.9,332.3 L565.9,315.5 L566.0,284.6 L566.1,487.3 L566.1,326.0 L566.2,289.6 L566.2,430.5 L566.3,282.2 L566.4,302.4 L566.4,246.4 L566.5,334.3 L566.6,353.1 L566.6,248.7 L566.7,294.2 L566.7,383.3 L566.8,428.1 L566.9,381.4 L566.9,375.4 L567.0,318.7 L567.0,313.3 L567.1,426.3 L567.2,277.5" stroke="#ff7f0e" stroke-width="1.04"/></g>
<path d="M95.00,214.00 L101.80,204.00 L131.40,137.70 L152.40,139.70 L168.40,192.60 L181.60,55.30 L192.90,51.20 L202.70,155.60 L211.90,209.40 L218.90,234.00 L224.80,252.80 L232.20,240.00 L237.80,227.50 L242.50,250.40 L247.60,256.30 L252.70,242.00 L257.70,232.70 L262.00,247.00 L265.40,250.40 L268.70,264.00 L273.00,304.50 L279.70,289.30 L284.80,282.50 L288.20,272.40 L291.15,282.44 L293.80,299.10 L296.35,315.91 L298.82,328.02 L301.20,347.22 L303.51,347.92 L305.75,340.91 L307.92,332.48 L310.03,344.09 L312.08,345.36 L314.07,339.14 L316.01,329.30 L317.90,314.91 L319.75,310.38 L321.54,315.10 L323.29,323.38 L325.01,328.50 L326.68,305.49 L328.31,303.13 L329.91,303.75 L331.48,306.46 L333.01,317.04 L334.51,328.30 L335.98,342.15 L337.42,351.59 L338.83,355.88 L340.22,356.15 L341.58,353.78 L342.91,352.30 L344.22,352.52 L345.51,357.67 L346.77,365.01 L348.02,365.65 L349.24,356.52 L350.44,345.31 L351.63,335.90 L352.79,326.04 L353.94,322.15 L355.06,327.27 L356.17,336.91 L357.27,343.60 L358.35,342.82 L359.41,338.15 L360.45,333.51 L361.49,331.77 L362.50,333.44 L363.51,337.17 L364.50,340.70 L365.47,342.87 L366.44,344.66 L367.39,347.43 L368.33,351.29 L369.25,355.70 L370.17,360.45 L371.07,364.89 L371.96,368.41 L372.85,370.96 L373.72,372.67 L374.58,373.35 L375.43,374.17 L376.27,374.53 L377.10,374.20 L377.92,371.97 L378.74,366.59 L379.54,360.24 L380.33,354.94 L381.12,352.47 L381.90,353.38 L382.67,355.83 L383.43,359.59 L384.18,363.96 L384.93,368.07 L385.67,370.01 L386.40,370.81 L387.12,370.34 L387.84,368.96 L388.55,365.42 L389.25,360.87 L389.95,356.17 L390.64,353.00 L391.32,351.13 L392.00,350.81 L392.67,350.84 L393.33,351.57 L393.99,352.81 L394.64,354.86 L395.29,357.26 L395.93,359.89 L396.57,362.04 L397.20,364.11 L397.82,365.89 L398.44,368.00 L399.05,370.12 L399.66,371.77 L400.27,372.74 L400.87,372.84 L401.46,372.86 L402.05,372.36 L402.63,370.50 L403.21,367.47 L403.79,363.78 L404.36,360.45 L404.92,357.82 L405.49,356.64 L406.04,356.88 L406.60,357.87 L407.15,359.39 L407.69,361.05 L408.23,363.10 L408.77,365.40 L409.30,367.65 L409.83,369.68 L410.35,371.25 L410.88,372.84 L411.39,374.30 L411.91,375.48 L412.42,376.17 L412.93,376.25 L413.43,375.89 L413.93,375.03 L414.43,373.76 L414.92,372.16 L415.41,369.81 L415.90,367.24 L416.38,364.52 L416.86,361.84 L417.34,359.38 L417.81,357.17 L418.28,355.26 L418.75,353.73 L419.21,352.96 L419.68,353.14 L420.13,354.71 L420.59,357.65 L421.04,361.17 L421.49,364.70 L421.94,368.02 L422.39,370.28 L422.83,371.57 L423.27,372.15 L423.71,372.42 L424.14,372.78 L424.57,373.38 L425.00,373.84 L425.43,375.05 L425.85,376.05 L426.27,376.26 L426.69,375.34 L427.11,373.64 L427.52,371.28 L427.94,368.95 L428.35,367.37 L428.75,366.54 L429.16,366.52 L429.56,367.27 L429.96,368.77 L430.36,370.54 L430.76,372.40 L431.15,374.38 L431.54,376.38 L431.93,377.87 L432.32,379.64 L432.71,381.39 L433.09,382.99 L433.47,384.35 L433.85,385.68 L434.23,386.58 L434.61,387.24 L434.98,387.95 L435.35,388.88 L435.72,390.02 L436.09,391.29 L436.46,392.66 L436.82,393.85 L437.19,394.70 L437.55,395.10 L437.91,394.99 L438.26,394.61 L438.62,393.96 L438.97,393.08 L439.33,392.43 L439.68,391.74 L440.02,391.02 L440.37,390.26 L440.72,389.64 L441.06,389.08 L441.40,388.22 L441.74,387.69 L442.08,387.41 L442.42,387.13 L442.76,387.06 L443.09,387.24 L443.42,387.80 L443.76,388.37 L444.09,388.99 L444.41,389.78 L444.74,390.40 L445.07,390.75 L445.39,390.62 L445.71,389.96 L446.03,388.83 L446.35,387.23 L446.67,385.35 L446.99,383.26 L447.31,381.51 L447.62,379.72 L447.93,377.95 L448.24,376.61 L448.55,375.52 L448.86,374.67 L449.17,373.73 L449.48,372.78 L449.78,371.85 L450.09,370.82 L450.39,369.55 L450.69,368.31 L450.99,367.09 L451.29,366.34 L451.59,365.66 L451.88,365.03 L452.18,364.24 L452.47,363.37 L452.76,362.59 L453.05,361.81 L453.35,360.76 L453.63,359.82 L453.92,358.99 L454.21,358.76 L454.50,358.72 L454.78,358.69 L455.06,358.77 L455.35,359.20 L455.63,359.63 L455.91,360.07 L456.19,360.41 L456.47,360.71 L456.74,361.01 L457.02,361.29 L457.29,361.28 L457.57,361.28 L457.84,361.28 L458.11,361.29 L458.38,361.31 L458.65,361.33 L458.92,361.36 L459.19,361.66 L459.46,362.08 L459.72,362.50 L459.99,362.92 L460.25,363.52 L460.52,364.19 L460.78,364.93 L461.04,365.65 L461.30,365.94 L461.56,366.29 L461.82,366.70 L462.07,367.00 L462.33,366.95 L462.59,366.94 L462.84,366.97 L463.10,367.23 L463.35,367.84 L463.60,368.47 L463.85,369.37 L464.10,370.85 L464.35,372.88 L464.60,375.19 L464.85,377.68 L465.10,380.04 L465.34,382.04 L465.59,383.98 L465.83,385.76 L466.07,387.34 L466.32,388.67 L466.56,389.61 L466.80,390.09 L467.04,390.11 L467.28,390.22 L467.52,390.21 L467.76,390.09 L468.00,389.87 L468.23,389.66 L468.47,389.40 L468.70,389.08 L468.94,388.74 L469.17,388.24 L469.40,387.68 L469.64,387.14 L469.87,386.62 L470.10,386.01 L470.33,385.27 L470.56,384.59 L470.78,384.00 L471.01,383.49 L471.24,383.09 L471.47,382.71 L471.69,382.36 L471.92,382.02 L472.14,381.90 L472.36,381.93 L472.59,381.97 L472.81,382.01 L473.03,382.08 L473.25,382.27 L473.47,382.47 L473.69,382.66 L473.91,382.85 L474.13,382.92 L474.35,382.91 L474.56,382.88 L474.78,382.85 L474.99,382.81 L475.21,382.29 L475.42,381.73 L475.64,381.17 L475.85,380.59 L476.06,379.98 L476.27,379.33 L476.48,378.65 L476.70,377.95 L476.91,377.22 L477.11,376.77 L477.32,376.54 L477.53,376.29 L477.74,376.02 L477.95,375.74 L478.15,375.54 L478.36,375.37 L478.56,375.19 L478.77,375.00 L478.97,374.81 L479.18,374.15 L479.38,373.42 L479.58,372.68 L479.78,371.95 L479.98,371.21 L480.18,370.41 L480.38,369.54 L480.58,368.62 L480.78,367.65 L480.98,366.65 L481.18,366.09 L481.38,365.56 L481.57,365.01 L481.77,364.46 L481.97,363.91 L482.16,363.53 L482.36,363.21 L482.55,362.92 L482.74,362.66 L482.94,362.43 L483.13,362.09 L483.32,361.72 L483.51,361.42 L483.70,361.18 L483.90,361.01 L484.09,360.83 L484.28,360.58 L484.46,360.35 L484.65,360.12 L484.84,359.91 L485.03,359.73 L485.22,359.70 L485.40,359.67 L485.59,359.66 L485.78,359.65 L485.96,359.64 L486.15,359.58 L486.33,359.52 L486.51,359.45 L486.70,359.39 L486.88,359.34 L487.06,359.24 L487.25,359.04 L487.43,358.85 L487.61,358.66 L487.79,358.46 L487.97,358.27 L488.15,358.33 L488.33,358.44 L488.51,358.54 L488.69,358.64 L488.86,358.74 L489.04,358.89 L489.22,359.21 L489.40,359.52 L489.57,359.82 L489.75,360.12 L489.92,360.41 L490.10,360.55 L490.27,360.57 L490.45,360.58 L490.62,360.58 L490.79,360.57 L490.97,360.56 L491.14,360.30 L491.31,359.98 L491.48,359.66 L491.66,359.33 L491.83,358.99 L492.00,358.64 L492.17,358.31 L492.34,357.98 L492.51,357.63 L492.67,357.27 L492.84,356.91 L493.01,356.54 L493.18,356.21 L493.35,355.88 L493.51,355.53 L493.68,355.17 L493.85,354.81 L494.01,354.42 L494.18,353.93 L494.34,353.42 L494.51,352.91 L494.67,352.38 L494.84,351.84 L495.00,351.29 L495.16,350.72 L495.33,350.14 L495.49,349.54 L495.65,348.92 L495.81,348.23 L495.97,347.44 L496.14,346.66 L496.30,345.82 L496.46,344.91 L496.62,343.94 L496.78,342.92 L496.94,341.86 L497.09,340.88 L497.25,339.94 L497.41,338.99 L497.57,338.02 L497.73,337.05 L497.88,336.01 L498.04,334.91 L498.20,333.86 L498.35,332.73 L498.51,331.53 L498.67,330.28 L498.82,328.99 L498.98,327.66 L499.13,326.26 L499.29,324.84 L499.44,323.42 L499.59,322.00 L499.75,320.61 L499.90,319.24 L500.05,317.82 L500.20,316.26 L500.36,314.75 L500.51,313.32 L500.66,311.89 L500.81,310.42 L500.96,308.93 L501.11,307.44 L501.26,305.97 L501.41,304.49 L501.56,303.04 L501.71,301.61 L501.86,300.22 L502.01,298.88 L502.16,297.58 L502.30,296.36 L502.45,295.21 L502.60,294.15 L502.75,293.20 L502.89,292.35 L503.04,291.60 L503.19,290.88 L503.33,290.25 L503.48,289.63 L503.62,289.02 L503.77,288.42 L503.91,287.84 L504.06,287.25 L504.20,286.63 L504.35,286.04 L504.49,285.46 L504.63,284.89 L504.78,284.35 L504.92,283.83 L505.06,283.32 L505.20,282.84 L505.34,282.37 L505.49,281.93 L505.63,281.52 L505.77,281.13 L505.91,280.77 L506.05,280.53 L506.19,280.50 L506.33,280.50 L506.47,280.53 L506.61,280.58 L506.75,280.68 L506.89,280.81 L507.03,280.97 L507.17,281.09 L507.30,281.25 L507.44,281.43 L507.58,281.64 L507.72,281.87 L507.85,282.13 L507.99,282.41 L508.13,282.50 L508.26,282.59 L508.40,282.69 L508.54,282.80 L508.67,282.92 L508.81,283.05 L508.94,283.18 L509.08,283.48 L509.21,283.93 L509.34,284.37 L509.48,284.81 L509.61,285.24 L509.75,285.65 L509.88,286.06 L510.01,286.47 L510.15,287.02 L510.28,287.57 L510.41,288.11 L510.54,288.66 L510.67,289.21 L510.81,289.75 L510.94,290.30 L511.07,290.70 L511.20,290.96 L511.33,291.23 L511.46,291.50 L511.59,291.78 L511.72,292.05 L511.85,292.33 L511.98,292.62 L512.11,292.83 L512.24,293.03 L512.37,293.23 L512.50,293.44 L512.63,293.66 L512.75,293.88 L512.88,294.11 L513.01,294.36 L513.14,294.75 L513.26,295.16 L513.39,295.57 L513.52,295.99 L513.64,296.41 L513.77,296.85 L513.90,297.29 L514.02,297.77 L514.15,298.34 L514.27,298.92 L514.40,299.51 L514.52,300.10 L514.65,300.71 L514.77,301.33 L514.90,301.96 L515.02,302.61 L515.15,303.29 L515.27,303.99 L515.39,304.71 L515.52,305.45 L515.64,306.21 L515.76,306.99 L515.89,307.80 L516.01,308.62 L516.13,309.34 L516.25,310.09 L516.38,310.87 L516.50,311.68 L516.62,312.52 L516.74,313.40 L516.86,314.33 L516.98,315.47 L517.10,316.69 L517.22,318.05 L517.34,319.54 L517.46,321.13 L517.58,322.77 L517.70,324.45 L517.82,326.12 L517.94,327.77 L518.06,329.39 L518.18,330.95 L518.30,332.39 L518.42,333.68 L518.54,334.80 L518.65,335.88 L518.77,336.97 L518.89,338.06 L519.01,339.14 L519.13,340.35 L519.24,341.53 L519.36,342.65 L519.48,343.71 L519.59,344.70 L519.71,345.60 L519.83,346.41 L519.94,347.11 L520.06,347.71 L520.17,348.19 L520.29,348.57 L520.40,348.94 L520.52,349.30 L520.64,349.65 L520.75,349.98 L520.86,350.31 L520.98,350.63 L521.09,350.81 L521.21,350.97 L521.32,351.11 L521.44,351.25 L521.55,351.38 L521.66,351.50 L521.78,351.62 L521.89,351.73 L522.00,351.83 L522.11,351.84 L522.23,351.84 L522.34,351.84 L522.45,351.83 L522.56,351.83 L522.67,351.81 L522.79,351.80 L522.90,351.78 L523.01,351.76 L523.12,351.67 L523.23,351.57 L523.34,351.47 L523.45,351.38 L523.56,351.28 L523.67,351.19 L523.78,351.09 L523.89,351.00 L524.00,350.91 L524.11,350.85 L524.22,350.80 L524.33,350.75 L524.44,350.70 L524.55,350.66 L524.66,350.61 L524.77,350.58 L524.88,350.54 L524.98,350.51 L525.09,350.66 L525.20,350.84 L525.31,351.02 L525.42,351.20 L525.52,351.39 L525.63,351.57 L525.74,351.76 L525.85,351.94 L525.95,352.13 L526.06,352.35 L526.17,352.61 L526.27,352.86 L526.38,353.11 L526.48,353.37 L526.59,353.62 L526.70,353.88 L526.80,354.13 L526.91,354.39 L527.01,354.62 L527.12,354.71 L527.22,354.79 L527.33,354.88 L527.43,354.97 L527.54,355.05 L527.64,355.14 L527.75,355.23 L527.85,355.32 L527.95,355.41 L528.06,355.44 L528.16,355.41 L528.27,355.39 L528.37,355.36 L528.47,355.34 L528.57,355.32 L528.68,355.30 L528.78,355.28 L528.88,355.26 L528.99,355.24 L529.09,355.32 L529.19,355.42 L529.29,355.52 L529.39,355.62 L529.50,355.73 L529.60,355.84 L529.70,355.95 L529.80,356.06 L529.90,356.18 L530.00,356.30 L530.10,356.57 L530.20,356.84 L530.31,357.11 L530.41,357.39 L530.51,357.67 L530.61,357.95 L530.71,358.23 L530.81,358.51 L530.91,358.79 L531.01,359.07 L531.11,359.31 L531.21,359.55 L531.30,359.79 L531.40,360.03 L531.50,360.27 L531.60,360.51 L531.70,360.75 L531.80,360.99 L531.90,361.23 L532.00,361.47 L532.09,361.66 L532.19,361.85 L532.29,362.03 L532.39,362.22 L532.49,362.40 L532.58,362.58 L532.68,362.76 L532.78,362.94 L532.88,363.12 L532.97,363.29 L533.07,363.49 L533.17,363.69 L533.26,363.89 L533.36,364.09 L533.46,364.29 L533.55,364.49 L533.65,364.68 L533.74,364.89 L533.84,365.10 L533.94,365.31 L534.03,365.54 L534.13,365.80 L534.22,366.06 L534.32,366.32 L534.41,366.58 L534.51,366.85 L534.60,367.11 L534.70,367.38 L534.79,367.65 L534.89,367.91 L534.98,368.18 L535.08,368.45 L535.17,368.72 L535.26,368.98 L535.36,369.25 L535.45,369.51 L535.55,369.77 L535.64,370.02 L535.73,370.27 L535.83,370.52 L535.92,370.76 L536.01,370.99 L536.11,371.22 L536.20,371.45 L536.29,371.66 L536.38,371.87 L536.48,372.08 L536.57,372.27 L536.66,372.46 L536.75,372.64 L536.84,372.81 L536.94,372.97 L537.03,373.12 L537.12,373.24 L537.21,373.34 L537.30,373.44 L537.39,373.53 L537.49,373.61 L537.58,373.67 L537.67,373.73 L537.76,373.78 L537.85,373.83 L537.94,373.88 L538.03,373.91 L538.12,373.90 L538.21,373.89 L538.30,373.88 L538.39,373.86 L538.48,373.85 L538.57,373.83 L538.66,373.81 L538.75,373.79 L538.84,373.77 L538.93,373.74 L539.02,373.70 L539.11,373.57 L539.20,373.45 L539.29,373.33 L539.38,373.20 L539.46,373.08 L539.55,372.95 L539.64,372.82 L539.73,372.69 L539.82,372.56 L539.91,372.43 L539.99,372.30 L540.08,372.14 L540.17,371.99 L540.26,371.83 L540.35,371.67 L540.43,371.51 L540.52,371.35 L540.61,371.19 L540.70,371.03 L540.78,370.87 L540.87,370.71 L540.96,370.54 L541.04,370.43 L541.13,370.36 L541.22,370.29 L541.30,370.22 L541.39,370.15 L541.48,370.07 L541.56,370.00 L541.65,369.93 L541.73,369.86 L541.82,369.79 L541.91,369.72 L541.99,369.65 L542.08,369.61 L542.16,369.58 L542.25,369.56 L542.33,369.53 L542.42,369.50 L542.50,369.47 L542.59,369.44 L542.67,369.41 L542.76,369.39 L542.84,369.36 L542.93,369.33 L543.01,369.30 L543.10,369.27 L543.18,369.24 L543.27,369.20 L543.35,369.17 L543.43,369.14 L543.52,369.10 L543.60,369.07 L543.69,369.03 L543.77,369.00 L543.85,368.96 L543.94,368.92 L544.02,368.90 L544.10,368.90 L544.19,368.90 L544.27,368.89 L544.35,368.89 L544.44,368.89 L544.52,368.88 L544.60,368.88 L544.68,368.87 L544.77,368.86 L544.85,368.85 L544.93,368.84 L545.01,368.81 L545.10,368.72 L545.18,368.63 L545.26,368.54 L545.34,368.44 L545.42,368.34 L545.50,368.25 L545.59,368.14 L545.67,368.04 L545.75,367.94 L545.83,367.83 L545.91,367.72 L545.99,367.61 L546.07,367.38 L546.15,367.13 L546.24,366.88 L546.32,366.63 L546.40,366.37 L546.48,366.12 L546.56,365.86 L546.64,365.60 L546.72,365.33 L546.80,365.07 L546.88,364.80 L546.96,364.53 L547.04,364.31 L547.12,364.15 L547.20,363.99 L547.28,363.82 L547.36,363.64 L547.44,363.43 L547.52,363.20 L547.60,362.93 L547.68,362.64 L547.76,362.33 L547.83,361.99 L547.91,361.62 L547.99,361.24 L548.07,360.98 L548.15,360.73 L548.23,360.46 L548.31,360.17 L548.39,359.86 L548.46,359.54 L548.54,359.21 L548.62,358.86 L548.70,358.50 L548.78,358.14 L548.86,357.76 L548.93,357.37 L549.01,356.97 L549.09,356.50 L549.17,356.03 L549.24,355.55 L549.32,355.07 L549.40,354.58 L549.48,354.10 L549.55,353.62 L549.63,353.14 L549.71,352.67 L549.78,352.20 L549.86,351.73 L549.94,351.26 L550.02,350.73 L550.09,350.07 L550.17,349.36 L550.25,348.60 L550.32,347.82 L550.40,347.00 L550.47,346.15 L550.55,345.28 L550.63,344.39 L550.70,343.49 L550.78,342.57 L550.85,341.66 L550.93,340.74 L551.01,339.83 L551.08,338.96 L551.16,338.10 L551.23,337.26 L551.31,336.44 L551.38,335.65 L551.46,334.88 L551.53,334.15 L551.61,333.46 L551.68,332.81 L551.76,332.20 L551.83,331.65 L551.91,331.15 L551.98,330.70 L552.06,330.40 L552.13,330.19 L552.21,330.05 L552.28,329.99 L552.36,330.00 L552.43,330.09 L552.50,330.19 L552.58,330.31 L552.65,330.43 L552.73,330.55 L552.80,330.69 L552.87,330.82 L552.95,330.97 L553.02,331.09 L553.10,331.15 L553.17,331.21 L553.24,331.28 L553.32,331.35 L553.39,331.43 L553.46,331.51 L553.54,331.60 L553.61,331.69 L553.68,331.78 L553.75,331.88 L553.83,331.98 L553.90,332.09 L553.97,332.20 L554.05,332.25 L554.12,332.27 L554.19,332.29 L554.26,332.31 L554.34,332.34 L554.41,332.37 L554.48,332.40 L554.55,332.43 L554.62,332.47 L554.70,332.50 L554.77,332.54 L554.84,332.58 L554.91,332.63 L554.98,332.67 L555.05,332.75 L555.13,332.85 L555.20,332.94 L555.27,333.03 L555.34,333.13 L555.41,333.22 L555.48,333.32 L555.55,333.43 L555.63,333.56 L555.70,333.72 L555.77,333.92 L555.84,334.13 L555.91,334.37 L555.98,334.63 L556.05,334.95 L556.12,335.30 L556.19,335.67 L556.26,336.05 L556.33,336.45 L556.40,336.86 L556.47,337.28 L556.54,337.71 L556.61,338.15 L556.68,338.59 L556.75,339.04 L556.82,339.49 L556.89,339.94 L556.96,340.39 L557.03,340.83 L557.10,341.26 L557.17,341.68 L557.24,342.10 L557.31,342.51 L557.38,342.92 L557.45,343.31 L557.52,343.69 L557.59,344.05 L557.66,344.40 L557.73,344.73 L557.79,345.05 L557.86,345.35 L557.93,345.62 L558.00,345.88 L558.07,346.09 L558.14,346.28 L558.21,346.44 L558.28,346.57 L558.34,346.68 L558.41,346.75 L558.48,346.79 L558.55,346.80 L558.62,346.78 L558.69,346.74 L558.75,346.69 L558.82,346.63 L558.89,346.56 L558.96,346.49 L559.03,346.43 L559.09,346.40 L559.16,346.36 L559.23,346.31 L559.30,346.26 L559.36,346.20 L559.43,346.14 L559.50,346.06 L559.57,345.99 L559.63,345.91 L559.70,345.82 L559.77,345.73 L559.83,345.63 L559.90,345.53 L559.97,345.43 L560.04,345.35 L560.10,345.29 L560.17,345.24 L560.24,345.18 L560.30,345.12 L560.37,345.05 L560.44,344.99 L560.50,344.92 L560.57,344.85 L560.63,344.78 L560.70,344.70 L560.77,344.63 L560.83,344.56 L560.90,344.49 L560.97,344.41 L561.03,344.30 L561.10,344.16 L561.16,344.01 L561.23,343.86 L561.29,343.72 L561.36,343.57 L561.43,343.43 L561.49,343.29 L561.56,343.15 L561.62,343.02 L561.69,342.89 L561.75,342.76 L561.82,342.64 L561.88,342.51 L561.95,342.40 L562.01,342.27 L562.08,342.11 L562.14,341.95 L562.21,341.80 L562.27,341.65 L562.34,341.50 L562.40,341.36 L562.47,341.23 L562.53,341.11 L562.60,340.98 L562.66,340.87 L562.73,340.76 L562.79,340.66 L562.85,340.57 L562.92,340.48 L562.98,340.40 L563.05,340.30 L563.11,340.20 L563.18,340.11 L563.24,340.02 L563.30,339.94 L563.37,339.86 L563.43,339.79 L563.50,339.71 L563.56,339.64 L563.62,339.58 L563.69,339.51 L563.75,339.45 L563.81,339.40 L563.88,339.34 L563.94,339.29 L564.00,339.24 L564.07,339.22 L564.13,339.20 L564.19,339.19 L564.26,339.18 L564.32,339.17 L564.38,339.16 L564.45,339.15 L564.51,339.15 L564.57,339.15 L564.63,339.16 L564.70,339.16 L564.76,339.17 L564.82,339.18 L564.88,339.19 L564.95,339.20 L565.01,339.24 L565.07,339.38 L565.13,339.52 L565.20,339.66 L565.26,339.81 L565.32,339.96 L565.38,340.11 L565.45,340.26 L565.51,340.41 L565.57,340.57 L565.63,340.72 L565.69,340.88 L565.76,341.06 L565.82,341.30 L565.88,341.58 L565.94,341.92 L566.00,342.29 L566.06,342.68 L566.12,343.11 L566.19,343.57 L566.25,344.06 L566.31,344.57 L566.37,345.10 L566.43,345.64 L566.49,346.20 L566.55,346.76 L566.62,347.33 L566.68,347.90 L566.74,348.46 L566.80,349.02 L566.86,349.57 L566.92,350.10 L566.98,350.61 L567.04,351.08 L567.10,351.50 L567.16,351.90" stroke="#1f77b4" stroke-width="4.167"/>
<path d="M95.00,440.00 L101.80,397.00 L131.20,202.80 L152.40,255.20 L168.50,255.20 L181.50,161.20 L192.80,232.00 L203.00,333.30 L211.80,234.50 L218.50,288.00 L224.90,315.80 L232.20,317.30 L238.80,282.20 L243.00,282.60 L245.10,285.90 L248.50,294.40 L252.60,320.00 L257.50,331.00 L259.60,340.00 L262.60,349.90 L265.70,355.20 L268.00,373.50 L272.50,395.60 L278.60,395.60 L281.70,405.50 L282.40,423.00 L284.70,385.70 L287.00,364.40 L289.00,347.20 L291.15,335.73 L293.80,329.58 L296.35,332.87 L298.82,308.80 L301.20,309.09 L303.51,314.76 L305.75,329.10 L307.92,344.37 L310.03,360.49 L312.08,383.46 L314.07,389.24 L316.01,395.94 L317.90,403.98 L319.75,403.26 L321.54,401.89 L323.29,396.18 L325.01,386.82 L326.68,376.43 L328.31,367.47 L329.91,364.93 L331.48,362.92 L333.01,360.09 L334.51,365.51 L335.98,378.90 L337.42,385.72 L338.83,385.69 L340.22,385.09 L341.58,383.30 L342.91,379.90 L344.22,373.93 L345.51,364.57 L346.77,352.61 L348.02,338.19 L349.24,322.32 L350.44,310.09 L351.63,299.78 L352.79,288.43 L353.94,274.87 L355.06,262.84 L356.17,254.23 L357.27,247.78 L358.35,242.64 L359.41,237.09 L360.45,231.57 L361.49,226.61 L362.50,220.66 L363.51,214.18 L364.50,209.18 L365.47,205.91 L366.44,203.74 L367.39,202.81 L368.33,203.69 L369.25,206.42 L370.17,209.86 L371.07,212.82 L371.96,217.13 L372.85,222.33 L373.72,225.80 L374.58,228.73 L375.43,232.32 L376.27,236.82 L377.10,241.76 L377.92,246.73 L378.74,252.52 L379.54,258.68 L380.33,264.74 L381.12,270.35 L381.90,275.48 L382.67,279.13 L383.43,280.62 L384.18,280.17 L384.93,279.26 L385.67,279.14 L386.40,278.59 L387.12,277.65 L387.84,276.70 L388.55,276.52 L389.25,276.44 L389.95,276.09 L390.64,275.86 L391.32,276.30 L392.00,277.49 L392.67,278.33 L393.33,278.47 L393.99,277.97 L394.64,276.93 L395.29,276.09 L395.93,275.45 L396.57,275.18 L397.20,275.12 L397.82,275.37 L398.44,275.68 L399.05,276.04 L399.66,276.49 L400.27,277.48 L400.87,281.73 L401.46,287.88 L402.05,293.57 L402.63,296.34 L403.21,296.01 L403.79,294.57 L404.36,292.56 L404.92,290.41 L405.49,289.58 L406.04,290.71 L406.60,294.91 L407.15,299.67 L407.69,303.51 L408.23,305.22 L408.77,305.00 L409.30,303.91 L409.83,302.20 L410.35,300.14 L410.88,297.98 L411.39,295.99 L411.91,294.36 L412.42,293.03 L412.93,291.96 L413.43,290.77 L413.93,289.64 L414.43,288.85 L414.92,288.10 L415.41,287.76 L415.90,287.42 L416.38,286.73 L416.86,285.84 L417.34,284.75 L417.81,283.54 L418.28,282.28 L418.75,280.98 L419.21,279.61 L419.68,278.18 L420.13,276.67 L420.59,274.95 L421.04,273.08 L421.49,271.09 L421.94,269.05 L422.39,267.02 L422.83,265.06 L423.27,263.21 L423.71,261.54 L424.14,260.15 L424.57,258.92 L425.00,257.71 L425.43,256.84 L425.85,256.18 L426.27,255.78 L426.69,255.73 L427.11,256.01 L427.52,256.63 L427.94,257.39 L428.35,258.29 L428.75,259.29 L429.16,260.08 L429.56,260.50 L429.96,260.94 L430.36,261.79 L430.76,262.67 L431.15,263.71 L431.54,265.03 L431.93,266.43 L432.32,267.37 L432.71,268.28 L433.09,269.27 L433.47,270.40 L433.85,271.58 L434.23,272.80 L434.61,274.14 L434.98,275.61 L435.35,276.75 L435.72,277.96 L436.09,279.23 L436.46,280.52 L436.82,281.84 L437.19,283.48 L437.55,285.42 L437.91,287.56 L438.26,290.31 L438.62,293.33 L438.97,296.39 L439.33,298.99 L439.68,301.38 L440.02,303.48 L440.37,304.91 L440.72,305.88 L441.06,306.44 L441.40,307.19 L441.74,307.83 L442.08,308.45 L442.42,309.15 L442.76,309.83 L443.09,310.48 L443.42,311.08 L443.76,311.72 L444.09,312.34 L444.41,312.76 L444.74,313.43 L445.07,314.29 L445.39,315.18 L445.71,316.15 L446.03,317.18 L446.35,318.49 L446.67,319.67 L446.99,320.68 L447.31,321.88 L447.62,322.78 L447.93,323.32 L448.24,323.61 L448.55,323.57 L448.86,323.21 L449.17,322.34 L449.48,321.08 L449.78,319.69 L450.09,318.00 L450.39,315.74 L450.69,313.52 L450.99,311.40 L451.29,309.40 L451.59,307.21 L451.88,304.85 L452.18,302.59 L452.47,300.42 L452.76,298.25 L453.05,296.16 L453.35,294.24 L453.63,292.49 L453.92,290.96 L454.21,289.73 L454.50,288.83 L454.78,288.14 L455.06,287.49 L455.35,286.81 L455.63,286.17 L455.91,285.58 L456.19,284.92 L456.47,284.25 L456.74,283.60 L457.02,282.99 L457.29,282.51 L457.57,282.05 L457.84,281.59 L458.11,281.29 L458.38,281.17 L458.65,281.06 L458.92,280.97 L459.19,280.93 L459.46,280.93 L459.72,280.94 L459.99,280.97 L460.25,280.91 L460.52,280.84 L460.78,280.78 L461.04,280.71 L461.30,280.64 L461.56,280.55 L461.82,280.44 L462.07,280.25 L462.33,279.87 L462.59,279.45 L462.84,278.97 L463.10,278.29 L463.35,277.40 L463.60,276.38 L463.85,275.29 L464.10,274.16 L464.35,273.06 L464.60,271.98 L464.85,270.95 L465.10,270.01 L465.34,269.17 L465.59,268.50 L465.83,268.01 L466.07,267.86 L466.32,268.25 L466.56,268.97 L466.80,269.96 L467.04,271.17 L467.28,272.45 L467.52,273.86 L467.76,275.35 L468.00,276.87 L468.23,277.98 L468.47,279.01 L468.70,279.94 L468.94,280.72 L469.17,281.45 L469.40,282.01 L469.64,282.33 L469.87,282.59 L470.10,282.94 L470.33,283.45 L470.56,283.92 L470.78,284.38 L471.01,284.80 L471.24,285.10 L471.47,285.39 L471.69,285.67 L471.92,285.95 L472.14,286.07 L472.36,286.11 L472.59,286.17 L472.81,286.24 L473.03,286.34 L473.25,286.51 L473.47,286.70 L473.69,286.94 L473.91,287.22 L474.13,287.59 L474.35,288.04 L474.56,288.53 L474.78,289.06 L474.99,289.62 L475.21,290.02 L475.42,290.45 L475.64,290.90 L475.85,291.36 L476.06,291.84 L476.27,292.31 L476.48,292.79 L476.70,293.27 L476.91,293.76 L477.11,294.37 L477.32,295.10 L477.53,295.81 L477.74,296.52 L477.95,297.34 L478.15,298.29 L478.36,299.30 L478.56,300.31 L478.77,301.25 L478.97,302.06 L479.18,302.63 L479.38,302.94 L479.58,302.95 L479.78,302.87 L479.98,302.76 L480.18,302.78 L480.38,302.79 L480.58,302.78 L480.78,302.75 L480.98,302.70 L481.18,302.62 L481.38,302.53 L481.57,302.43 L481.77,302.31 L481.97,302.20 L482.16,301.96 L482.36,301.70 L482.55,301.45 L482.74,301.19 L482.94,300.93 L483.13,300.53 L483.32,300.05 L483.51,299.55 L483.70,299.04 L483.90,298.51 L484.09,298.03 L484.28,297.60 L484.46,297.15 L484.65,296.70 L484.84,296.23 L485.03,295.81 L485.22,295.67 L485.40,295.52 L485.59,295.36 L485.78,295.19 L485.96,295.02 L486.15,295.04 L486.33,295.11 L486.51,295.18 L486.70,295.24 L486.88,295.30 L487.06,295.30 L487.25,295.21 L487.43,295.11 L487.61,295.02 L487.79,294.92 L487.97,294.83 L488.15,294.55 L488.33,294.23 L488.51,293.92 L488.69,293.61 L488.86,293.31 L489.04,292.94 L489.22,292.45 L489.40,291.92 L489.57,291.37 L489.75,290.81 L489.92,290.23 L490.10,289.57 L490.27,288.86 L490.45,288.15 L490.62,287.44 L490.79,286.74 L490.97,286.05 L491.14,285.27 L491.31,284.48 L491.48,283.71 L491.66,282.98 L491.83,282.28 L492.00,281.61 L492.17,281.01 L492.34,280.45 L492.51,279.95 L492.67,279.49 L492.84,279.09 L493.01,278.77 L493.18,278.73 L493.35,278.69 L493.51,278.65 L493.68,278.61 L493.85,278.57 L494.01,278.54 L494.18,278.52 L494.34,278.51 L494.51,278.49 L494.67,278.48 L494.84,278.47 L495.00,278.45 L495.16,278.38 L495.33,278.31 L495.49,278.24 L495.65,278.17 L495.81,278.10 L495.97,278.03 L496.14,278.08 L496.30,278.14 L496.46,278.21 L496.62,278.28 L496.78,278.34 L496.94,278.41 L497.09,278.54 L497.25,278.71 L497.41,278.89 L497.57,279.06 L497.73,279.23 L497.88,279.40 L498.04,279.51 L498.20,279.42 L498.35,279.33 L498.51,279.25 L498.67,279.16 L498.82,279.07 L498.98,278.99 L499.13,278.84 L499.29,278.69 L499.44,278.54 L499.59,278.38 L499.75,278.23 L499.90,278.08 L500.05,277.99 L500.20,278.05 L500.36,278.10 L500.51,278.15 L500.66,278.20 L500.81,278.25 L500.96,278.30 L501.11,278.29 L501.26,278.26 L501.41,278.23 L501.56,278.21 L501.71,278.17 L501.86,278.14 L502.01,278.11 L502.16,277.98 L502.30,277.86 L502.45,277.73 L502.60,277.60 L502.75,277.48 L502.89,277.35 L503.04,277.23 L503.19,277.15 L503.33,277.07 L503.48,276.99 L503.62,276.91 L503.77,276.83 L503.91,276.74 L504.06,276.62 L504.20,276.45 L504.35,276.28 L504.49,276.11 L504.63,275.93 L504.78,275.76 L504.92,275.59 L505.06,275.41 L505.20,275.24 L505.34,275.06 L505.49,274.89 L505.63,274.71 L505.77,274.54 L505.91,274.37 L506.05,274.30 L506.19,274.42 L506.33,274.54 L506.47,274.66 L506.61,274.79 L506.75,274.91 L506.89,275.03 L507.03,275.19 L507.17,275.49 L507.30,275.78 L507.44,276.08 L507.58,276.37 L507.72,276.67 L507.85,276.97 L507.99,277.27 L508.13,277.40 L508.26,277.53 L508.40,277.65 L508.54,277.78 L508.67,277.91 L508.81,278.04 L508.94,278.18 L509.08,278.20 L509.21,278.12 L509.34,278.05 L509.48,277.98 L509.61,277.92 L509.75,277.86 L509.88,277.81 L510.01,277.75 L510.15,277.66 L510.28,277.57 L510.41,277.48 L510.54,277.39 L510.67,277.31 L510.81,277.24 L510.94,277.16 L511.07,277.18 L511.20,277.27 L511.33,277.37 L511.46,277.47 L511.59,277.57 L511.72,277.68 L511.85,277.78 L511.98,277.89 L512.11,278.11 L512.24,278.37 L512.37,278.68 L512.50,279.01 L512.63,279.37 L512.75,279.76 L512.88,280.17 L513.01,280.60 L513.14,280.95 L513.26,281.31 L513.39,281.68 L513.52,282.07 L513.64,282.48 L513.77,282.89 L513.90,283.31 L514.02,283.70 L514.15,283.99 L514.27,284.28 L514.40,284.56 L514.52,284.85 L514.65,285.13 L514.77,285.40 L514.90,285.67 L515.02,285.95 L515.15,286.32 L515.27,286.69 L515.39,287.03 L515.52,287.36 L515.64,287.67 L515.76,287.96 L515.89,288.22 L516.01,288.47 L516.13,288.82 L516.25,289.13 L516.38,289.42 L516.50,289.67 L516.62,289.89 L516.74,290.07 L516.86,290.21 L516.98,290.25 L517.10,290.05 L517.22,289.74 L517.34,289.35 L517.46,288.90 L517.58,288.39 L517.70,287.83 L517.82,287.24 L517.94,286.62 L518.06,285.93 L518.18,285.18 L518.30,284.43 L518.42,283.70 L518.54,282.99 L518.65,282.31 L518.77,281.68 L518.89,281.09 L519.01,280.57 L519.13,280.19 L519.24,279.88 L519.36,279.66 L519.48,279.54 L519.59,279.51 L519.71,279.54 L519.83,279.62 L519.94,279.76 L520.06,280.04 L520.17,280.46 L520.29,280.92 L520.40,281.42 L520.52,281.95 L520.64,282.52 L520.75,283.12 L520.86,283.75 L520.98,284.41 L521.09,285.15 L521.21,285.92 L521.32,286.70 L521.44,287.50 L521.55,288.31 L521.66,289.13 L521.78,289.95 L521.89,290.77 L522.00,291.59 L522.11,292.19 L522.23,292.79 L522.34,293.37 L522.45,293.95 L522.56,294.51 L522.67,295.05 L522.79,295.57 L522.90,296.08 L523.01,296.54 L523.12,296.83 L523.23,297.08 L523.34,297.31 L523.45,297.50 L523.56,297.65 L523.67,297.77 L523.78,297.84 L523.89,297.87 L524.00,297.86 L524.11,297.98 L524.22,298.04 L524.33,298.06 L524.44,298.06 L524.55,298.07 L524.66,298.07 L524.77,298.07 L524.88,298.07 L524.98,298.08 L525.09,298.28 L525.20,298.52 L525.31,298.76 L525.42,299.00 L525.52,299.24 L525.63,299.48 L525.74,299.72 L525.85,299.95 L525.95,300.19 L526.06,300.38 L526.17,300.51 L526.27,300.65 L526.38,300.79 L526.48,300.93 L526.59,301.07 L526.70,301.21 L526.80,301.35 L526.91,301.49 L527.01,301.60 L527.12,301.53 L527.22,301.46 L527.33,301.39 L527.43,301.32 L527.54,301.25 L527.64,301.19 L527.75,301.12 L527.85,301.05 L527.95,300.98 L528.06,300.82 L528.16,300.59 L528.27,300.36 L528.37,300.13 L528.47,299.89 L528.57,299.63 L528.68,299.34 L528.78,299.02 L528.88,298.69 L528.99,298.33 L529.09,297.92 L529.19,297.50 L529.29,297.05 L529.39,296.59 L529.50,296.11 L529.60,295.62 L529.70,295.11 L529.80,294.60 L529.90,294.07 L530.00,293.54 L530.10,293.24 L530.20,292.93 L530.31,292.62 L530.41,292.30 L530.51,291.97 L530.61,291.65 L530.71,291.32 L530.81,290.99 L530.91,290.66 L531.01,290.34 L531.11,290.18 L531.21,290.01 L531.30,289.85 L531.40,289.70 L531.50,289.55 L531.60,289.41 L531.70,289.28 L531.80,289.16 L531.90,289.05 L532.00,288.96 L532.09,288.79 L532.19,288.63 L532.29,288.49 L532.39,288.36 L532.49,288.25 L532.58,288.16 L532.68,288.08 L532.78,288.03 L532.88,288.00 L532.97,287.99 L533.07,287.94 L533.17,287.90 L533.26,287.90 L533.36,288.00 L533.46,288.19 L533.55,288.46 L533.65,288.80 L533.74,289.22 L533.84,289.69 L533.94,290.22 L534.03,290.79 L534.13,291.38 L534.22,291.99 L534.32,292.64 L534.41,293.29 L534.51,293.96 L534.60,294.63 L534.70,295.29 L534.79,295.95 L534.89,296.58 L534.98,297.19 L535.08,297.81 L535.17,298.40 L535.26,298.94 L535.36,299.43 L535.45,299.86 L535.55,300.23 L535.64,300.52 L535.73,300.73 L535.83,300.86 L535.92,300.90 L536.01,300.90 L536.11,300.93 L536.20,300.94 L536.29,300.95 L536.38,300.94 L536.48,300.92 L536.57,300.89 L536.66,300.86 L536.75,300.81 L536.84,300.75 L536.94,300.68 L537.03,300.59 L537.12,300.46 L537.21,300.32 L537.30,300.17 L537.39,300.01 L537.49,299.85 L537.58,299.68 L537.67,299.50 L537.76,299.32 L537.85,299.13 L537.94,298.93 L538.03,298.73 L538.12,298.54 L538.21,298.34 L538.30,298.13 L538.39,297.92 L538.48,297.71 L538.57,297.49 L538.66,297.27 L538.75,297.05 L538.84,296.83 L538.93,296.60 L539.02,296.37 L539.11,296.17 L539.20,295.97 L539.29,295.77 L539.38,295.57 L539.46,295.36 L539.55,295.16 L539.64,294.95 L539.73,294.74 L539.82,294.54 L539.91,294.33 L539.99,294.13 L540.08,293.95 L540.17,293.77 L540.26,293.59 L540.35,293.41 L540.43,293.24 L540.52,293.06 L540.61,292.89 L540.70,292.73 L540.78,292.56 L540.87,292.40 L540.96,292.24 L541.04,292.09 L541.13,291.94 L541.22,291.79 L541.30,291.65 L541.39,291.51 L541.48,291.37 L541.56,291.25 L541.65,291.12 L541.73,291.01 L541.82,290.89 L541.91,290.79 L541.99,290.69 L542.08,290.47 L542.16,290.24 L542.25,290.01 L542.33,289.78 L542.42,289.54 L542.50,289.31 L542.59,289.07 L542.67,288.83 L542.76,288.59 L542.84,288.35 L542.93,288.11 L543.01,287.85 L543.10,287.51 L543.18,287.17 L543.27,286.84 L543.35,286.50 L543.43,286.16 L543.52,285.82 L543.60,285.48 L543.69,285.15 L543.77,284.81 L543.85,284.48 L543.94,284.15 L544.02,283.84 L544.10,283.62 L544.19,283.41 L544.27,283.19 L544.35,282.98 L544.44,282.77 L544.52,282.56 L544.60,282.36 L544.68,282.15 L544.77,281.95 L544.85,281.75 L544.93,281.56 L545.01,281.38 L545.10,281.29 L545.18,281.20 L545.26,281.11 L545.34,281.03 L545.42,280.95 L545.50,280.88 L545.59,280.81 L545.67,280.74 L545.75,280.68 L545.83,280.62 L545.91,280.56 L545.99,280.51 L546.07,280.45 L546.15,280.40 L546.24,280.36 L546.32,280.31 L546.40,280.28 L546.48,280.24 L546.56,280.22 L546.64,280.20 L546.72,280.18 L546.80,280.17 L546.88,280.16 L546.96,280.15 L547.04,280.13 L547.12,280.10 L547.20,280.06 L547.28,280.03 L547.36,279.99 L547.44,279.96 L547.52,279.92 L547.60,279.89 L547.68,279.86 L547.76,279.83 L547.83,279.80 L547.91,279.77 L547.99,279.74 L548.07,279.76 L548.15,279.80 L548.23,279.83 L548.31,279.87 L548.39,279.90 L548.46,279.94 L548.54,279.98 L548.62,280.01 L548.70,280.05 L548.78,280.09 L548.86,280.13 L548.93,280.17 L549.01,280.21 L549.09,280.23 L549.17,280.24 L549.24,280.26 L549.32,280.28 L549.40,280.30 L549.48,280.32 L549.55,280.35 L549.63,280.37 L549.71,280.40 L549.78,280.42 L549.86,280.45 L549.94,280.48 L550.02,280.48 L550.09,280.41 L550.17,280.33 L550.25,280.26 L550.32,280.18 L550.40,280.11 L550.47,280.04 L550.55,279.97 L550.63,279.90 L550.70,279.83 L550.78,279.77 L550.85,279.70 L550.93,279.64 L551.01,279.59 L551.08,279.52 L551.16,279.47 L551.23,279.42 L551.31,279.40 L551.38,279.39 L551.46,279.39 L551.53,279.40 L551.61,279.43 L551.68,279.47 L551.76,279.52 L551.83,279.58 L551.91,279.66 L551.98,279.74 L552.06,279.88 L552.13,280.04 L552.21,280.21 L552.28,280.39 L552.36,280.58 L552.43,280.78 L552.50,280.98 L552.58,281.20 L552.65,281.42 L552.73,281.64 L552.80,281.87 L552.87,282.11 L552.95,282.36 L553.02,282.62 L553.10,282.94 L553.17,283.27 L553.24,283.59 L553.32,283.93 L553.39,284.26 L553.46,284.60 L553.54,284.94 L553.61,285.28 L553.68,285.62 L553.75,285.97 L553.83,286.32 L553.90,286.66 L553.97,287.01 L554.05,287.39 L554.12,287.80 L554.19,288.20 L554.26,288.60 L554.34,289.00 L554.41,289.40 L554.48,289.80 L554.55,290.19 L554.62,290.58 L554.70,290.97 L554.77,291.36 L554.84,291.74 L554.91,292.12 L554.98,292.49 L555.05,292.80 L555.13,293.08 L555.20,293.36 L555.27,293.63 L555.34,293.89 L555.41,294.15 L555.48,294.41 L555.55,294.65 L555.63,294.90 L555.70,295.13 L555.77,295.35 L555.84,295.57 L555.91,295.78 L555.98,295.98 L556.05,296.10 L556.12,296.18 L556.19,296.26 L556.26,296.32 L556.33,296.37 L556.40,296.42 L556.47,296.47 L556.54,296.51 L556.61,296.55 L556.68,296.58 L556.75,296.62 L556.82,296.65 L556.89,296.68 L556.96,296.70 L557.03,296.76 L557.10,296.86 L557.17,296.96 L557.24,297.05 L557.31,297.15 L557.38,297.24 L557.45,297.32 L557.52,297.41 L557.59,297.50 L557.66,297.58 L557.73,297.66 L557.79,297.74 L557.86,297.82 L557.93,297.90 L558.00,297.97 L558.07,298.13 L558.14,298.29 L558.21,298.44 L558.28,298.59 L558.34,298.75 L558.41,298.90 L558.48,299.05 L558.55,299.20 L558.62,299.35 L558.69,299.50 L558.75,299.65 L558.82,299.80 L558.89,299.95 L558.96,300.10 L559.03,300.25 L559.09,300.42 L559.16,300.60 L559.23,300.77 L559.30,300.94 L559.36,301.12 L559.43,301.29 L559.50,301.46 L559.57,301.64 L559.63,301.82 L559.70,301.99 L559.77,302.17 L559.83,302.35 L559.90,302.53 L559.97,302.71 L560.04,302.89 L560.10,303.06 L560.17,303.23 L560.24,303.41 L560.30,303.59 L560.37,303.76 L560.44,303.94 L560.50,304.13 L560.57,304.31 L560.63,304.50 L560.70,304.69 L560.77,304.88 L560.83,305.07 L560.90,305.26 L560.97,305.46 L561.03,305.62 L561.10,305.73 L561.16,305.85 L561.23,305.96 L561.29,306.08 L561.36,306.21 L561.43,306.33 L561.49,306.46 L561.56,306.59 L561.62,306.73 L561.69,306.87 L561.75,307.01 L561.82,307.16 L561.88,307.31 L561.95,307.48 L562.01,307.65 L562.08,307.81 L562.14,307.98 L562.21,308.16 L562.27,308.35 L562.34,308.55 L562.40,308.76 L562.47,308.98 L562.53,309.20 L562.60,309.44 L562.66,309.68 L562.73,309.93 L562.79,310.18 L562.85,310.45 L562.92,310.71 L562.98,310.99 L563.05,311.31 L563.11,311.66 L563.18,312.01 L563.24,312.37 L563.30,312.73 L563.37,313.09 L563.43,313.46 L563.50,313.83 L563.56,314.20 L563.62,314.58 L563.69,314.95 L563.75,315.33 L563.81,315.71 L563.88,316.09 L563.94,316.47 L564.00,316.86 L564.07,317.31 L564.13,317.76 L564.19,318.20 L564.26,318.65 L564.32,319.09 L564.38,319.54 L564.45,319.98 L564.51,320.42 L564.57,320.86 L564.63,321.29 L564.70,321.72 L564.76,322.15 L564.82,322.57 L564.88,322.99 L564.95,323.40 L565.01,323.81 L565.07,324.16 L565.13,324.51 L565.20,324.85 L565.26,325.18 L565.32,325.51 L565.38,325.84 L565.45,326.15 L565.51,326.46 L565.57,326.77 L565.63,327.06 L565.69,327.35 L565.76,327.63 L565.82,327.90 L565.88,328.16 L565.94,328.41 L566.00,328.66 L566.06,328.86 L566.12,329.05 L566.19,329.24 L566.25,329.44 L566.31,329.63 L566.37,329.82 L566.43,330.01 L566.49,330.20 L566.55,330.39 L566.62,330.57 L566.68,330.76 L566.74,330.95 L566.80,331.13 L566.86,331.31 L566.92,331.50 L566.98,331.68 L567.04,331.81 L567.10,331.92 L567.16,332.02" stroke="#ff7f0e" stroke-opacity="0.7" stroke-width="4.167"/>
</g>
<rect x="101.8" y="46.0" width="465.40" height="462.00" fill="none" stroke="#000" stroke-width="1.667" stroke-linejoin="miter"/>
<g stroke="#000">
<line x1="94.51" y1="85.00" x2="101.8" y2="85.00" stroke-width="1.667"/>
<line x1="94.51" y1="142.72" x2="101.8" y2="142.72" stroke-width="1.667"/>
<line x1="94.51" y1="200.43" x2="101.8" y2="200.43" stroke-width="1.667"/>
<line x1="94.51" y1="258.14" x2="101.8" y2="258.14" stroke-width="1.667"/>
<line x1="94.51" y1="315.86" x2="101.8" y2="315.86" stroke-width="1.667"/>
<line x1="94.51" y1="373.57" x2="101.8" y2="373.57" stroke-width="1.667"/>
<line x1="94.51" y1="431.29" x2="101.8" y2="431.29" stroke-width="1.667"/>
<line x1="94.51" y1="489.00" x2="101.8" y2="489.00" stroke-width="1.667"/>
<line x1="218.90" y1="508.0" x2="218.90" y2="515.29" stroke-width="1.667"/>
<line x1="386.40" y1="508.0" x2="386.40" y2="515.29" stroke-width="1.667"/>
<line x1="553.90" y1="508.0" x2="553.90" y2="515.29" stroke-width="1.667"/>
<line x1="101.82" y1="508.0" x2="101.82" y2="512.17" stroke-width="1.250"/>
<line x1="131.32" y1="508.0" x2="131.32" y2="512.17" stroke-width="1.250"/>
<line x1="152.25" y1="508.0" x2="152.25" y2="512.17" stroke-width="1.250"/>
<line x1="168.48" y1="508.0" x2="168.48" y2="512.17" stroke-width="1.250"/>
<line x1="181.74" y1="508.0" x2="181.74" y2="512.17" stroke-width="1.250"/>
<line x1="192.95" y1="508.0" x2="192.95" y2="512.17" stroke-width="1.250"/>
<line x1="202.67" y1="508.0" x2="202.67" y2="512.17" stroke-width="1.250"/>
<line x1="211.24" y1="508.0" x2="211.24" y2="512.17" stroke-width="1.250"/>
<line x1="269.32" y1="508.0" x2="269.32" y2="512.17" stroke-width="1.250"/>
<line x1="298.82" y1="508.0" x2="298.82" y2="512.17" stroke-width="1.250"/>
<line x1="319.75" y1="508.0" x2="319.75" y2="512.17" stroke-width="1.250"/>
<line x1="335.98" y1="508.0" x2="335.98" y2="512.17" stroke-width="1.250"/>
<line x1="349.24" y1="508.0" x2="349.24" y2="512.17" stroke-width="1.250"/>
<line x1="360.45" y1="508.0" x2="360.45" y2="512.17" stroke-width="1.250"/>
<line x1="370.17" y1="508.0" x2="370.17" y2="512.17" stroke-width="1.250"/>
<line x1="378.74" y1="508.0" x2="378.74" y2="512.17" stroke-width="1.250"/>
<line x1="436.82" y1="508.0" x2="436.82" y2="512.17" stroke-width="1.250"/>
<line x1="466.32" y1="508.0" x2="466.32" y2="512.17" stroke-width="1.250"/>
<line x1="487.25" y1="508.0" x2="487.25" y2="512.17" stroke-width="1.250"/>
<line x1="503.48" y1="508.0" x2="503.48" y2="512.17" stroke-width="1.250"/>
<line x1="516.74" y1="508.0" x2="516.74" y2="512.17" stroke-width="1.250"/>
<line x1="527.95" y1="508.0" x2="527.95" y2="512.17" stroke-width="1.250"/>
<line x1="537.67" y1="508.0" x2="537.67" y2="512.17" stroke-width="1.250"/>
<line x1="546.24" y1="508.0" x2="546.24" y2="512.17" stroke-width="1.250"/>
</g>
<g font-family="&quot;Liberation Sans&quot;, sans-serif" fill="#000">
<text x="44.30" y="93.50" font-size="22.77" textLength="41.40" lengthAdjust="spacingAndGlyphs">−10</text>
<text x="44.30" y="151.22" font-size="22.77" textLength="40.70" lengthAdjust="spacingAndGlyphs">−15</text>
<text x="44.30" y="208.23" font-size="22.77" textLength="41.40" lengthAdjust="spacingAndGlyphs">−20</text>
<text x="44.30" y="265.94" font-size="22.77" textLength="40.70" lengthAdjust="spacingAndGlyphs">−25</text>
<text x="44.30" y="324.36" font-size="22.77" textLength="41.40" lengthAdjust="spacingAndGlyphs">−30</text>
<text x="44.30" y="382.07" font-size="22.77" textLength="40.70" lengthAdjust="spacingAndGlyphs">−35</text>
<text x="44.30" y="439.09" font-size="22.77" textLength="41.40" lengthAdjust="spacingAndGlyphs">−40</text>
<text x="44.30" y="497.50" font-size="22.77" textLength="40.70" lengthAdjust="spacingAndGlyphs">−45</text>
<text x="202.50" y="543.00" font-size="22.77" textLength="25.10" lengthAdjust="spacingAndGlyphs">10</text>
<text x="228.20" y="535.00" font-size="16.28" textLength="8.40" lengthAdjust="spacingAndGlyphs">2</text>
<text x="369.30" y="543.00" font-size="22.77" textLength="25.10" lengthAdjust="spacingAndGlyphs">10</text>
<text x="395.70" y="535.00" font-size="16.28" textLength="7.70" lengthAdjust="spacingAndGlyphs">3</text>
<text x="536.80" y="543.00" font-size="22.77" textLength="25.10" lengthAdjust="spacingAndGlyphs">10</text>
<text x="563.20" y="535.00" font-size="16.28" textLength="7.70" lengthAdjust="spacingAndGlyphs">4</text>
<text x="203.90" y="33.30" font-size="26.50" textLength="261.50" lengthAdjust="spacingAndGlyphs">Magnitude Spectrum</text>
<text x="259.60" y="571.60" font-size="21.04" textLength="149.10" lengthAdjust="spacingAndGlyphs">Frequency(Hz)</text>
<text x="0" y="0" font-size="21.04" textLength="152.80" lengthAdjust="spacingAndGlyphs" transform="translate(31.30,356.40) rotate(-90)">Magnitude(dB)</text>
</g>
<rect x="207.06" y="56.42" width="254.88" height="67.08" rx="4.17" ry="4.17" fill="#fff" fill-opacity="0.8" stroke="#000" stroke-opacity="0.16" stroke-width="2.083"/>
<line x1="215.40" y1="73.46" x2="257.06" y2="73.46" stroke="#1f77b4" stroke-width="4.167" stroke-linecap="square"/>
<line x1="215.40" y1="103.875" x2="257.06" y2="103.875" stroke="#ff7f0e" stroke-opacity="0.7" stroke-width="4.167" stroke-linecap="square"/>
<g font-family="&quot;Liberation Sans&quot;, sans-serif" fill="#000">
<text x="274.60" y="80.30" font-size="20.95" textLength="178.80" lengthAdjust="spacingAndGlyphs">Pred. (smoothed)</text>
<text x="274.30" y="110.30" font-size="20.95" textLength="154.10" lengthAdjust="spacingAndGlyphs">GT (smoothed)</text>
</g>
</svg></body></html>
